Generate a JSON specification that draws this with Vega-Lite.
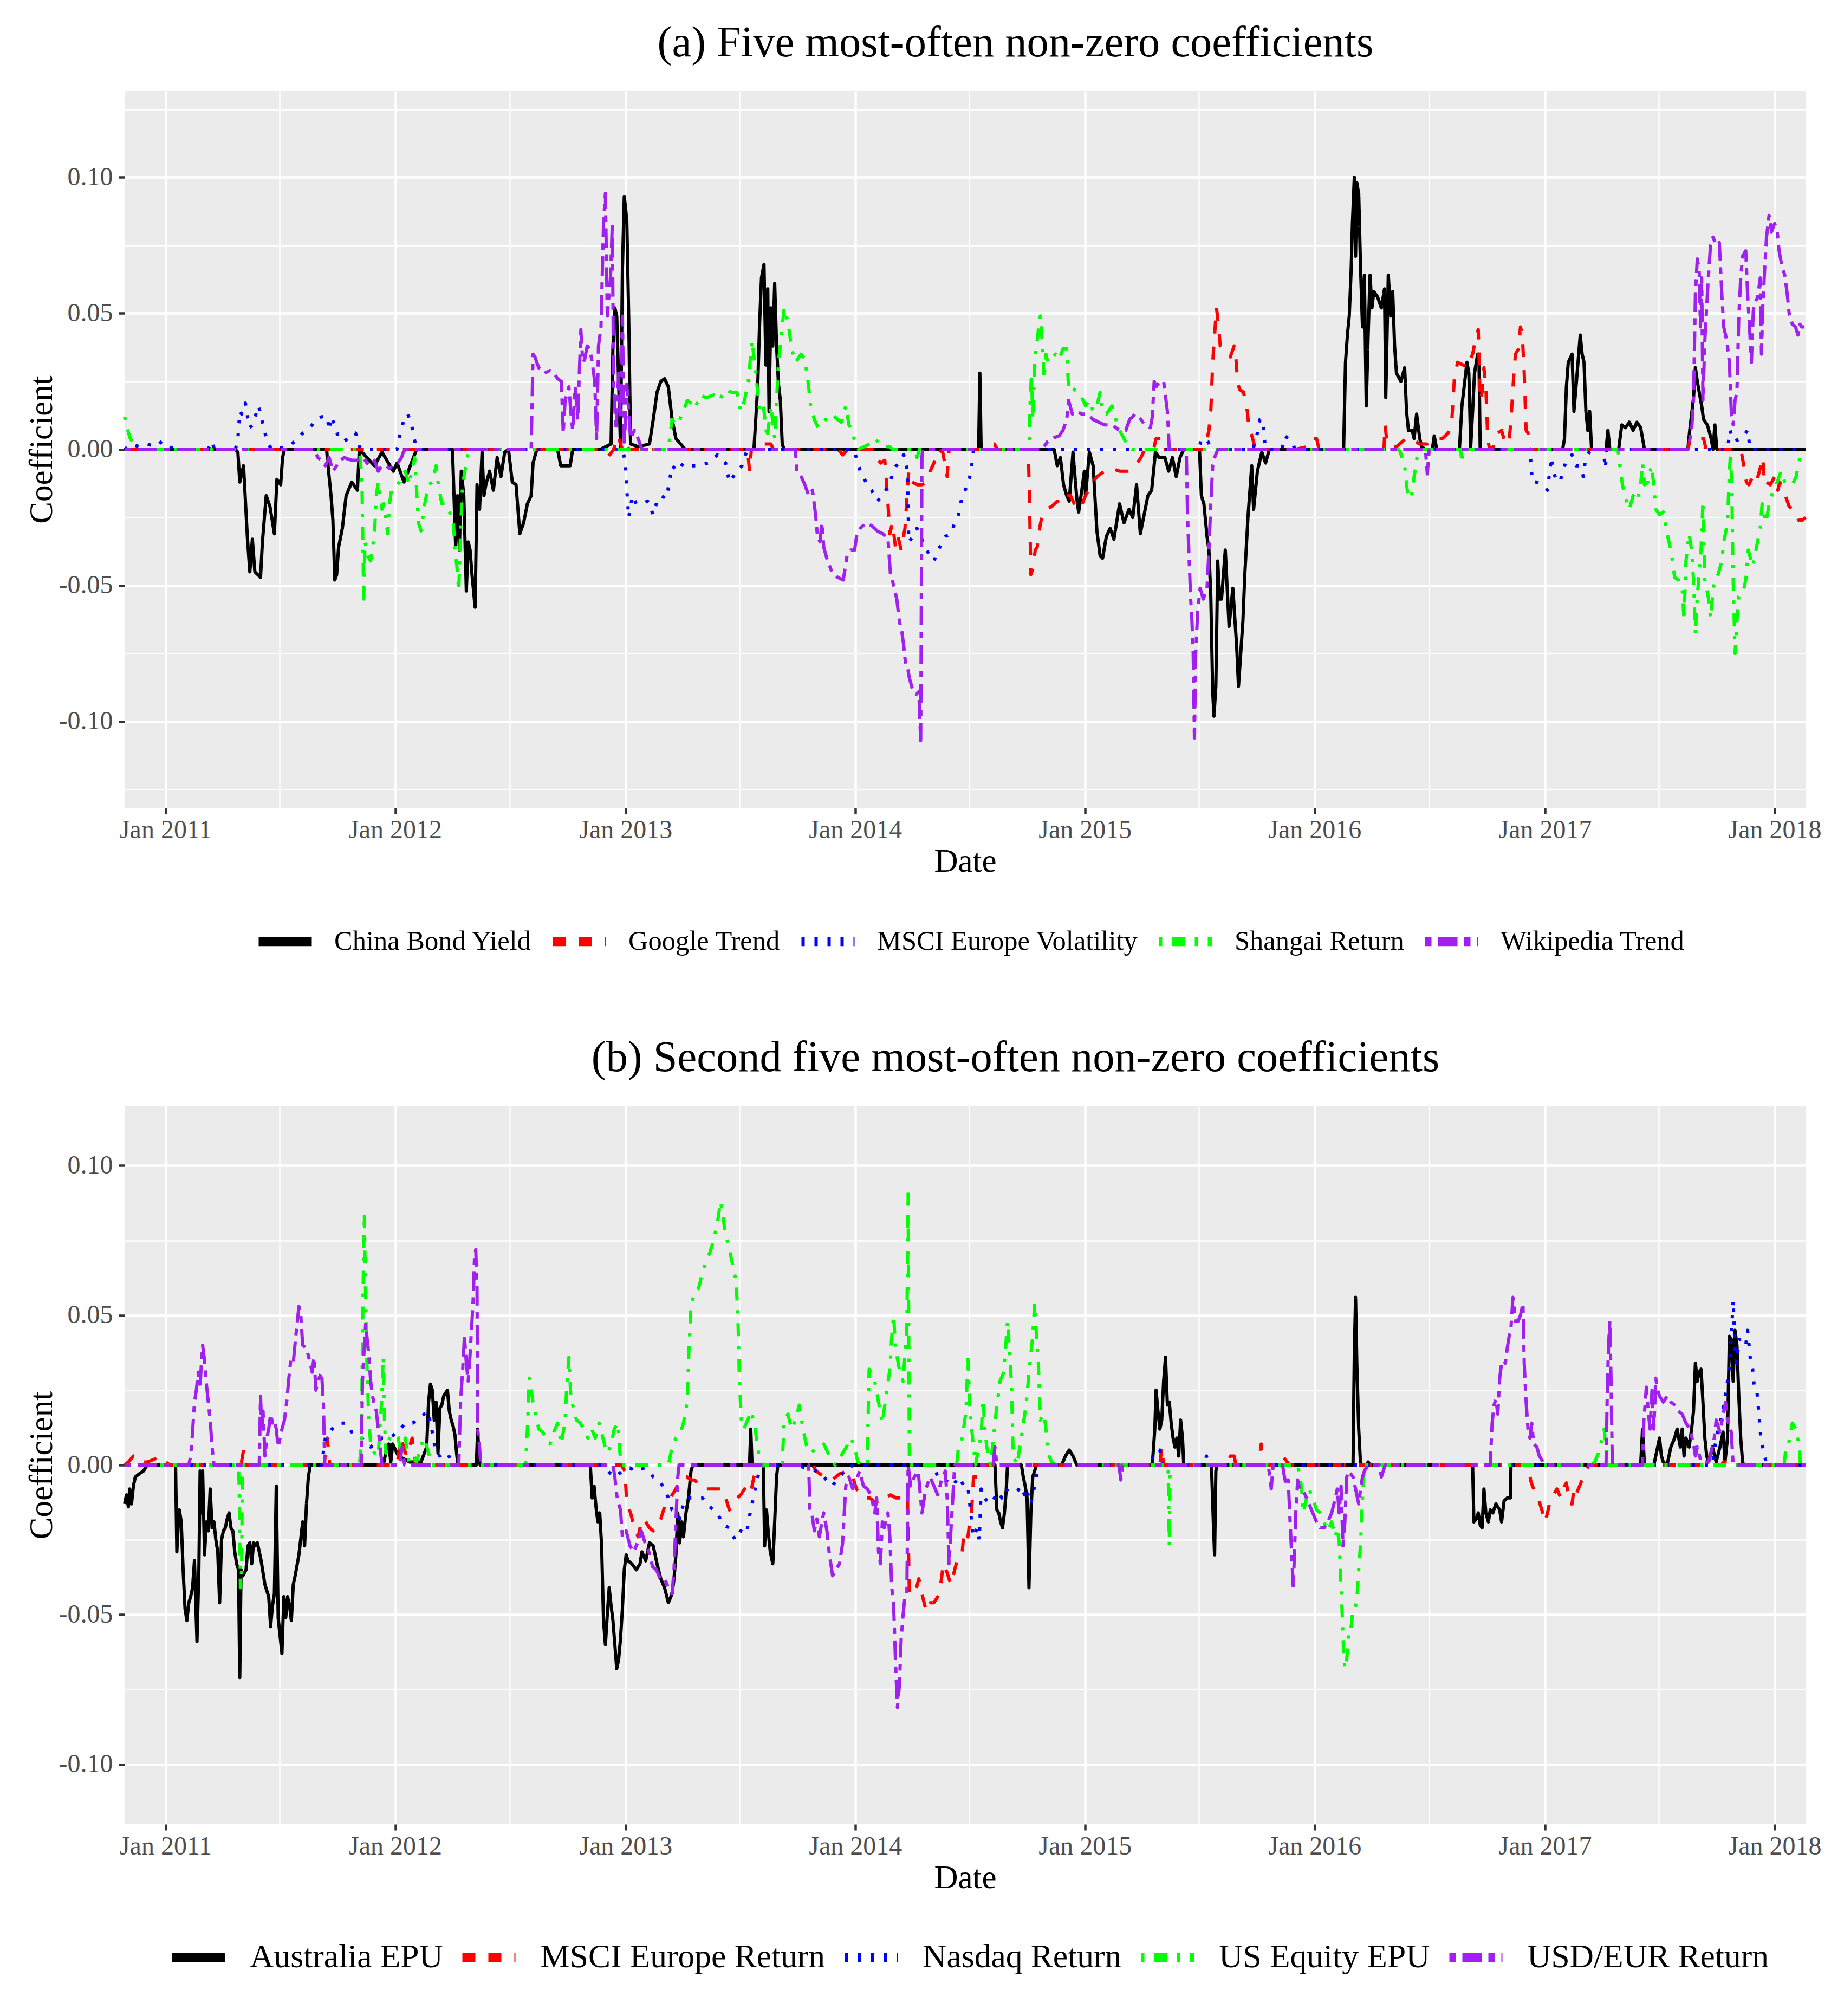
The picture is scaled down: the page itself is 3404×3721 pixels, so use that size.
{
  "$schema": "https://vega.github.io/schema/vega-lite/v6.json",
  "background": "white",
  "padding": {"left": 46, "top": 39, "right": 48, "bottom": 20},
  "config": {
    "font": "Liberation Serif",
    "view": {"fill": "#EBEBEB", "stroke": null},
    "axis": {
      "domain": false,
      "gridColor": "white",
      "gridWidth": 4.5,
      "tickColor": "#333333",
      "tickWidth": 4.5,
      "tickSize": 11,
      "labelFont": "Liberation Serif",
      "labelFontSize": 48,
      "labelColor": "#4D4D4D",
      "labelLimit": 400,
      "titleFont": "Liberation Serif",
      "titleFontSize": 61,
      "titleFontWeight": "normal",
      "titleColor": "black"
    },
    "legend": {
      "labelFont": "Liberation Serif",
      "labelColor": "black",
      "labelLimit": 1000,
      "symbolType": "stroke",
      "symbolSize": 9604,
      "symbolStrokeWidth": 17,
      "gridAlign": "each",
      "padding": 0
    },
    "title": {"font": "Liberation Serif", "fontSize": 80.5, "fontWeight": "normal", "color": "black", "anchor": "middle", "offset": 48, "dx": 93}
  },
  "spacing": 140,
  "resolve": {"scale": {"color": "independent", "strokeDash": "independent"}, "legend": {"color": "independent", "strokeDash": "independent"}},
  "vconcat": [
    {
      "title": "(a) Five most-often non-zero coefficients",
      "width": 3103,
      "height": 1323,
      "resolve": {"axis": {"x": "independent", "y": "independent"}},
      "layer": [
        {
          "data": {"values": [{"date": "2011-01-01", "value": 0}]},
          "mark": {"type": "point", "opacity": 0},
          "encoding": {
            "x": {"field": "date", "type": "temporal", "scale": {"type": "utc", "domain": [{"year": 2010, "month": 10, "date": 28, "utc": true}, {"year": 2018, "month": 2, "date": 19, "utc": true}]},
              "axis": {"orient": "bottom", "grid": true, "gridWidth": 2.3, "labels": false, "ticks": false, "title": null,
                "values": [{"year": 2011, "month": 7, "date": 1, "utc": true}, {"year": 2012, "month": 7, "date": 1, "utc": true}, {"year": 2013, "month": 7, "date": 1, "utc": true}, {"year": 2014, "month": 7, "date": 1, "utc": true}, {"year": 2015, "month": 7, "date": 1, "utc": true}, {"year": 2016, "month": 7, "date": 1, "utc": true}, {"year": 2017, "month": 7, "date": 1, "utc": true}]}},
            "y": {"field": "value", "type": "quantitative", "scale": {"domain": [-0.1317, 0.1317], "nice": false, "zero": false},
              "axis": {"orient": "left", "grid": true, "gridWidth": 2.3, "labels": false, "ticks": false, "title": null, "values": [-0.125, -0.075, -0.025, 0.025, 0.075, 0.125]}}
          }
        },
        {
          "data": {"values": [
            {"series": "China Bond Yield", "date": "2010-10-28", "value": 0},
            {"series": "Google Trend", "date": "2010-10-28", "value": 0},
            {"series": "MSCI Europe Volatility", "date": "2010-10-28", "value": 0},
            {"series": "Shangai Return", "date": "2010-10-28", "value": 0},
            {"series": "Wikipedia Trend", "date": "2010-10-28", "value": 0}
          ]},
          "mark": {"type": "line", "strokeWidth": 6, "strokeCap": "butt"},
          "encoding": {
            "x": {"field": "date", "type": "temporal", "axis": null},
            "y": {"field": "value", "type": "quantitative", "axis": null},
            "color": {"field": "series", "type": "nominal",
              "scale": {"domain": ["China Bond Yield", "Google Trend", "MSCI Europe Volatility", "Shangai Return", "Wikipedia Trend"], "range": ["#000000", "#FF0000", "#0000FF", "#00FF00", "#A020F0"]},
              "legend": {"title": null, "orient": "none", "direction": "horizontal", "legendX": 239, "legendY": 1512, "labelFontSize": 50.5, "labelOffset": 33, "columnPadding": 4,
                "encoding": {"symbols": {"strokeDash": {"value": {"expr": "datum.value === 'Google Trend' ? [68, 68] : datum.value === 'MSCI Europe Volatility' ? [17, 51] : datum.value === 'Shangai Return' ? [17, 51, 68, 51] : datum.value === 'Wikipedia Trend' ? [34, 34, 102, 34] : [1, 0]"}}}}}}
          }
        },
        {
          "data": {"values": [
            {"series": "China Bond Yield", "date": "2010-10-28", "value": 0},
            {"series": "China Bond Yield", "date": "2011-04-22", "value": 0},
            {"series": "China Bond Yield", "date": "2011-04-26", "value": -0.001},
            {"series": "China Bond Yield", "date": "2011-04-29", "value": -0.012},
            {"series": "China Bond Yield", "date": "2011-05-05", "value": -0.006},
            {"series": "China Bond Yield", "date": "2011-05-11", "value": -0.032},
            {"series": "China Bond Yield", "date": "2011-05-15", "value": -0.045},
            {"series": "China Bond Yield", "date": "2011-05-19", "value": -0.033},
            {"series": "China Bond Yield", "date": "2011-05-23", "value": -0.045},
            {"series": "China Bond Yield", "date": "2011-06-01", "value": -0.047},
            {"series": "China Bond Yield", "date": "2011-06-04", "value": -0.034},
            {"series": "China Bond Yield", "date": "2011-06-10", "value": -0.017},
            {"series": "China Bond Yield", "date": "2011-06-16", "value": -0.021},
            {"series": "China Bond Yield", "date": "2011-06-23", "value": -0.031},
            {"series": "China Bond Yield", "date": "2011-06-27", "value": -0.011},
            {"series": "China Bond Yield", "date": "2011-07-03", "value": -0.013},
            {"series": "China Bond Yield", "date": "2011-07-06", "value": -0.003},
            {"series": "China Bond Yield", "date": "2011-07-09", "value": 0},
            {"series": "China Bond Yield", "date": "2011-09-14", "value": 0},
            {"series": "China Bond Yield", "date": "2011-09-15", "value": -0.003},
            {"series": "China Bond Yield", "date": "2011-09-21", "value": -0.017},
            {"series": "China Bond Yield", "date": "2011-09-24", "value": -0.026},
            {"series": "China Bond Yield", "date": "2011-09-27", "value": -0.048},
            {"series": "China Bond Yield", "date": "2011-09-30", "value": -0.046},
            {"series": "China Bond Yield", "date": "2011-10-03", "value": -0.036},
            {"series": "China Bond Yield", "date": "2011-10-09", "value": -0.029},
            {"series": "China Bond Yield", "date": "2011-10-15", "value": -0.017},
            {"series": "China Bond Yield", "date": "2011-10-24", "value": -0.012},
            {"series": "China Bond Yield", "date": "2011-11-02", "value": -0.015},
            {"series": "China Bond Yield", "date": "2011-11-05", "value": 0},
            {"series": "China Bond Yield", "date": "2011-11-17", "value": -0.003},
            {"series": "China Bond Yield", "date": "2011-11-29", "value": -0.006},
            {"series": "China Bond Yield", "date": "2011-12-11", "value": -0.001},
            {"series": "China Bond Yield", "date": "2011-12-29", "value": -0.008},
            {"series": "China Bond Yield", "date": "2012-01-04", "value": -0.005},
            {"series": "China Bond Yield", "date": "2012-01-15", "value": -0.012},
            {"series": "China Bond Yield", "date": "2012-01-25", "value": -0.006},
            {"series": "China Bond Yield", "date": "2012-02-04", "value": 0},
            {"series": "China Bond Yield", "date": "2012-04-01", "value": 0},
            {"series": "China Bond Yield", "date": "2012-04-06", "value": -0.035},
            {"series": "China Bond Yield", "date": "2012-04-09", "value": -0.017},
            {"series": "China Bond Yield", "date": "2012-04-12", "value": -0.037},
            {"series": "China Bond Yield", "date": "2012-04-15", "value": -0.008},
            {"series": "China Bond Yield", "date": "2012-04-19", "value": -0.017},
            {"series": "China Bond Yield", "date": "2012-04-23", "value": -0.052},
            {"series": "China Bond Yield", "date": "2012-04-26", "value": -0.034},
            {"series": "China Bond Yield", "date": "2012-04-29", "value": -0.037},
            {"series": "China Bond Yield", "date": "2012-05-02", "value": -0.046},
            {"series": "China Bond Yield", "date": "2012-05-07", "value": -0.058},
            {"series": "China Bond Yield", "date": "2012-05-10", "value": -0.013},
            {"series": "China Bond Yield", "date": "2012-05-14", "value": -0.022},
            {"series": "China Bond Yield", "date": "2012-05-18", "value": -0.001},
            {"series": "China Bond Yield", "date": "2012-05-21", "value": -0.017},
            {"series": "China Bond Yield", "date": "2012-05-24", "value": -0.013},
            {"series": "China Bond Yield", "date": "2012-05-30", "value": -0.008},
            {"series": "China Bond Yield", "date": "2012-06-05", "value": -0.015},
            {"series": "China Bond Yield", "date": "2012-06-11", "value": -0.003},
            {"series": "China Bond Yield", "date": "2012-06-17", "value": -0.010},
            {"series": "China Bond Yield", "date": "2012-06-23", "value": -0.001},
            {"series": "China Bond Yield", "date": "2012-06-29", "value": 0},
            {"series": "China Bond Yield", "date": "2012-07-05", "value": -0.012},
            {"series": "China Bond Yield", "date": "2012-07-11", "value": -0.013},
            {"series": "China Bond Yield", "date": "2012-07-17", "value": -0.031},
            {"series": "China Bond Yield", "date": "2012-07-23", "value": -0.027},
            {"series": "China Bond Yield", "date": "2012-07-29", "value": -0.020},
            {"series": "China Bond Yield", "date": "2012-08-04", "value": -0.017},
            {"series": "China Bond Yield", "date": "2012-08-07", "value": -0.005},
            {"series": "China Bond Yield", "date": "2012-08-13", "value": 0},
            {"series": "China Bond Yield", "date": "2012-09-15", "value": 0},
            {"series": "China Bond Yield", "date": "2012-09-20", "value": -0.006},
            {"series": "China Bond Yield", "date": "2012-10-05", "value": -0.006},
            {"series": "China Bond Yield", "date": "2012-10-09", "value": 0},
            {"series": "China Bond Yield", "date": "2012-11-22", "value": 0},
            {"series": "China Bond Yield", "date": "2012-12-09", "value": 0.002},
            {"series": "China Bond Yield", "date": "2012-12-12", "value": 0.038},
            {"series": "China Bond Yield", "date": "2012-12-15", "value": 0.052},
            {"series": "China Bond Yield", "date": "2012-12-18", "value": 0.049},
            {"series": "China Bond Yield", "date": "2012-12-21", "value": 0.025},
            {"series": "China Bond Yield", "date": "2012-12-24", "value": 0.001},
            {"series": "China Bond Yield", "date": "2012-12-27", "value": 0.066},
            {"series": "China Bond Yield", "date": "2012-12-30", "value": 0.093},
            {"series": "China Bond Yield", "date": "2013-01-03", "value": 0.084},
            {"series": "China Bond Yield", "date": "2013-01-06", "value": 0.049},
            {"series": "China Bond Yield", "date": "2013-01-09", "value": 0.002},
            {"series": "China Bond Yield", "date": "2013-01-21", "value": 0.001},
            {"series": "China Bond Yield", "date": "2013-02-08", "value": 0.002},
            {"series": "China Bond Yield", "date": "2013-02-14", "value": 0.011},
            {"series": "China Bond Yield", "date": "2013-02-20", "value": 0.021},
            {"series": "China Bond Yield", "date": "2013-02-26", "value": 0.025},
            {"series": "China Bond Yield", "date": "2013-03-04", "value": 0.026},
            {"series": "China Bond Yield", "date": "2013-03-10", "value": 0.023},
            {"series": "China Bond Yield", "date": "2013-03-16", "value": 0.011},
            {"series": "China Bond Yield", "date": "2013-03-22", "value": 0.004},
            {"series": "China Bond Yield", "date": "2013-04-06", "value": 0},
            {"series": "China Bond Yield", "date": "2013-07-24", "value": 0},
            {"series": "China Bond Yield", "date": "2013-07-30", "value": 0.023},
            {"series": "China Bond Yield", "date": "2013-08-02", "value": 0.046},
            {"series": "China Bond Yield", "date": "2013-08-05", "value": 0.063},
            {"series": "China Bond Yield", "date": "2013-08-09", "value": 0.068},
            {"series": "China Bond Yield", "date": "2013-08-12", "value": 0.031},
            {"series": "China Bond Yield", "date": "2013-08-15", "value": 0.059},
            {"series": "China Bond Yield", "date": "2013-08-17", "value": 0.014},
            {"series": "China Bond Yield", "date": "2013-08-20", "value": 0.052},
            {"series": "China Bond Yield", "date": "2013-08-23", "value": 0.038},
            {"series": "China Bond Yield", "date": "2013-08-26", "value": 0.061},
            {"series": "China Bond Yield", "date": "2013-08-29", "value": 0.038},
            {"series": "China Bond Yield", "date": "2013-09-01", "value": 0.024},
            {"series": "China Bond Yield", "date": "2013-09-04", "value": 0.018},
            {"series": "China Bond Yield", "date": "2013-09-07", "value": 0.002},
            {"series": "China Bond Yield", "date": "2013-09-10", "value": 0},
            {"series": "China Bond Yield", "date": "2014-07-16", "value": 0},
            {"series": "China Bond Yield", "date": "2014-07-18", "value": 0.028},
            {"series": "China Bond Yield", "date": "2014-07-20", "value": 0},
            {"series": "China Bond Yield", "date": "2014-11-13", "value": 0},
            {"series": "China Bond Yield", "date": "2014-11-18", "value": -0.006},
            {"series": "China Bond Yield", "date": "2014-11-23", "value": -0.003},
            {"series": "China Bond Yield", "date": "2014-11-28", "value": -0.013},
            {"series": "China Bond Yield", "date": "2014-12-03", "value": -0.017},
            {"series": "China Bond Yield", "date": "2014-12-07", "value": -0.019},
            {"series": "China Bond Yield", "date": "2014-12-13", "value": -0.001},
            {"series": "China Bond Yield", "date": "2014-12-19", "value": -0.018},
            {"series": "China Bond Yield", "date": "2014-12-22", "value": -0.023},
            {"series": "China Bond Yield", "date": "2014-12-27", "value": -0.015},
            {"series": "China Bond Yield", "date": "2014-12-31", "value": -0.008},
            {"series": "China Bond Yield", "date": "2015-01-02", "value": -0.017},
            {"series": "China Bond Yield", "date": "2015-01-08", "value": -0.001},
            {"series": "China Bond Yield", "date": "2015-01-14", "value": -0.006},
            {"series": "China Bond Yield", "date": "2015-01-20", "value": -0.030},
            {"series": "China Bond Yield", "date": "2015-01-25", "value": -0.039},
            {"series": "China Bond Yield", "date": "2015-01-29", "value": -0.040},
            {"series": "China Bond Yield", "date": "2015-02-04", "value": -0.032},
            {"series": "China Bond Yield", "date": "2015-02-10", "value": -0.029},
            {"series": "China Bond Yield", "date": "2015-02-16", "value": -0.033},
            {"series": "China Bond Yield", "date": "2015-02-25", "value": -0.020},
            {"series": "China Bond Yield", "date": "2015-03-04", "value": -0.027},
            {"series": "China Bond Yield", "date": "2015-03-12", "value": -0.022},
            {"series": "China Bond Yield", "date": "2015-03-18", "value": -0.025},
            {"series": "China Bond Yield", "date": "2015-03-24", "value": -0.013},
            {"series": "China Bond Yield", "date": "2015-03-30", "value": -0.031},
            {"series": "China Bond Yield", "date": "2015-04-05", "value": -0.024},
            {"series": "China Bond Yield", "date": "2015-04-11", "value": -0.017},
            {"series": "China Bond Yield", "date": "2015-04-17", "value": -0.015},
            {"series": "China Bond Yield", "date": "2015-04-23", "value": -0.001},
            {"series": "China Bond Yield", "date": "2015-04-29", "value": -0.003},
            {"series": "China Bond Yield", "date": "2015-05-08", "value": -0.003},
            {"series": "China Bond Yield", "date": "2015-05-14", "value": -0.008},
            {"series": "China Bond Yield", "date": "2015-05-20", "value": -0.003},
            {"series": "China Bond Yield", "date": "2015-05-26", "value": -0.010},
            {"series": "China Bond Yield", "date": "2015-06-01", "value": -0.003},
            {"series": "China Bond Yield", "date": "2015-06-07", "value": 0},
            {"series": "China Bond Yield", "date": "2015-07-02", "value": 0},
            {"series": "China Bond Yield", "date": "2015-07-05", "value": -0.017},
            {"series": "China Bond Yield", "date": "2015-07-09", "value": -0.020},
            {"series": "China Bond Yield", "date": "2015-07-14", "value": -0.032},
            {"series": "China Bond Yield", "date": "2015-07-17", "value": -0.037},
            {"series": "China Bond Yield", "date": "2015-07-20", "value": -0.054},
            {"series": "China Bond Yield", "date": "2015-07-23", "value": -0.089},
            {"series": "China Bond Yield", "date": "2015-07-25", "value": -0.098},
            {"series": "China Bond Yield", "date": "2015-07-28", "value": -0.087},
            {"series": "China Bond Yield", "date": "2015-07-31", "value": -0.041},
            {"series": "China Bond Yield", "date": "2015-08-03", "value": -0.055},
            {"series": "China Bond Yield", "date": "2015-08-06", "value": -0.055},
            {"series": "China Bond Yield", "date": "2015-08-12", "value": -0.037},
            {"series": "China Bond Yield", "date": "2015-08-18", "value": -0.065},
            {"series": "China Bond Yield", "date": "2015-08-24", "value": -0.051},
            {"series": "China Bond Yield", "date": "2015-08-30", "value": -0.072},
            {"series": "China Bond Yield", "date": "2015-09-02", "value": -0.087},
            {"series": "China Bond Yield", "date": "2015-09-09", "value": -0.063},
            {"series": "China Bond Yield", "date": "2015-09-12", "value": -0.046},
            {"series": "China Bond Yield", "date": "2015-09-17", "value": -0.025},
            {"series": "China Bond Yield", "date": "2015-09-23", "value": -0.006},
            {"series": "China Bond Yield", "date": "2015-09-26", "value": -0.022},
            {"series": "China Bond Yield", "date": "2015-10-02", "value": -0.008},
            {"series": "China Bond Yield", "date": "2015-10-09", "value": -0.001},
            {"series": "China Bond Yield", "date": "2015-10-15", "value": -0.005},
            {"series": "China Bond Yield", "date": "2015-10-21", "value": 0},
            {"series": "China Bond Yield", "date": "2016-02-16", "value": 0},
            {"series": "China Bond Yield", "date": "2016-02-19", "value": 0.032},
            {"series": "China Bond Yield", "date": "2016-02-22", "value": 0.042},
            {"series": "China Bond Yield", "date": "2016-02-25", "value": 0.049},
            {"series": "China Bond Yield", "date": "2016-02-28", "value": 0.066},
            {"series": "China Bond Yield", "date": "2016-03-01", "value": 0.083},
            {"series": "China Bond Yield", "date": "2016-03-04", "value": 0.100},
            {"series": "China Bond Yield", "date": "2016-03-06", "value": 0.071},
            {"series": "China Bond Yield", "date": "2016-03-08", "value": 0.098},
            {"series": "China Bond Yield", "date": "2016-03-11", "value": 0.094},
            {"series": "China Bond Yield", "date": "2016-03-14", "value": 0.066},
            {"series": "China Bond Yield", "date": "2016-03-17", "value": 0.045},
            {"series": "China Bond Yield", "date": "2016-03-20", "value": 0.064},
            {"series": "China Bond Yield", "date": "2016-03-23", "value": 0.016},
            {"series": "China Bond Yield", "date": "2016-03-26", "value": 0.042},
            {"series": "China Bond Yield", "date": "2016-03-29", "value": 0.064},
            {"series": "China Bond Yield", "date": "2016-04-01", "value": 0.052},
            {"series": "China Bond Yield", "date": "2016-04-04", "value": 0.058},
            {"series": "China Bond Yield", "date": "2016-04-10", "value": 0.056},
            {"series": "China Bond Yield", "date": "2016-04-16", "value": 0.052},
            {"series": "China Bond Yield", "date": "2016-04-21", "value": 0.059},
            {"series": "China Bond Yield", "date": "2016-04-23", "value": 0.019},
            {"series": "China Bond Yield", "date": "2016-04-27", "value": 0.064},
            {"series": "China Bond Yield", "date": "2016-05-01", "value": 0.049},
            {"series": "China Bond Yield", "date": "2016-05-04", "value": 0.058},
            {"series": "China Bond Yield", "date": "2016-05-07", "value": 0.038},
            {"series": "China Bond Yield", "date": "2016-05-10", "value": 0.028},
            {"series": "China Bond Yield", "date": "2016-05-17", "value": 0.025},
            {"series": "China Bond Yield", "date": "2016-05-23", "value": 0.030},
            {"series": "China Bond Yield", "date": "2016-05-26", "value": 0.014},
            {"series": "China Bond Yield", "date": "2016-05-29", "value": 0.007},
            {"series": "China Bond Yield", "date": "2016-06-04", "value": 0.007},
            {"series": "China Bond Yield", "date": "2016-06-07", "value": 0.004},
            {"series": "China Bond Yield", "date": "2016-06-11", "value": 0.013},
            {"series": "China Bond Yield", "date": "2016-06-16", "value": 0.004},
            {"series": "China Bond Yield", "date": "2016-06-19", "value": 0.001},
            {"series": "China Bond Yield", "date": "2016-06-25", "value": 0},
            {"series": "China Bond Yield", "date": "2016-07-06", "value": 0},
            {"series": "China Bond Yield", "date": "2016-07-09", "value": 0.005},
            {"series": "China Bond Yield", "date": "2016-07-13", "value": 0},
            {"series": "China Bond Yield", "date": "2016-08-18", "value": 0},
            {"series": "China Bond Yield", "date": "2016-08-22", "value": 0.016},
            {"series": "China Bond Yield", "date": "2016-08-26", "value": 0.024},
            {"series": "China Bond Yield", "date": "2016-08-30", "value": 0.032},
            {"series": "China Bond Yield", "date": "2016-09-02", "value": 0.028},
            {"series": "China Bond Yield", "date": "2016-09-05", "value": 0.001},
            {"series": "China Bond Yield", "date": "2016-09-08", "value": 0.014},
            {"series": "China Bond Yield", "date": "2016-09-11", "value": 0.028},
            {"series": "China Bond Yield", "date": "2016-09-16", "value": 0.035},
            {"series": "China Bond Yield", "date": "2016-09-18", "value": 0.035},
            {"series": "China Bond Yield", "date": "2016-09-20", "value": 0},
            {"series": "China Bond Yield", "date": "2017-01-29", "value": 0},
            {"series": "China Bond Yield", "date": "2017-02-01", "value": 0.004},
            {"series": "China Bond Yield", "date": "2017-02-04", "value": 0.023},
            {"series": "China Bond Yield", "date": "2017-02-07", "value": 0.032},
            {"series": "China Bond Yield", "date": "2017-02-13", "value": 0.035},
            {"series": "China Bond Yield", "date": "2017-02-16", "value": 0.014},
            {"series": "China Bond Yield", "date": "2017-02-20", "value": 0.025},
            {"series": "China Bond Yield", "date": "2017-02-26", "value": 0.042},
            {"series": "China Bond Yield", "date": "2017-03-01", "value": 0.035},
            {"series": "China Bond Yield", "date": "2017-03-04", "value": 0.032},
            {"series": "China Bond Yield", "date": "2017-03-07", "value": 0.014},
            {"series": "China Bond Yield", "date": "2017-03-10", "value": 0.007},
            {"series": "China Bond Yield", "date": "2017-03-13", "value": 0.014},
            {"series": "China Bond Yield", "date": "2017-03-16", "value": 0},
            {"series": "China Bond Yield", "date": "2017-04-08", "value": 0},
            {"series": "China Bond Yield", "date": "2017-04-11", "value": 0.007},
            {"series": "China Bond Yield", "date": "2017-04-14", "value": 0},
            {"series": "China Bond Yield", "date": "2017-04-28", "value": 0},
            {"series": "China Bond Yield", "date": "2017-05-03", "value": 0.009},
            {"series": "China Bond Yield", "date": "2017-05-09", "value": 0.008},
            {"series": "China Bond Yield", "date": "2017-05-15", "value": 0.010},
            {"series": "China Bond Yield", "date": "2017-05-21", "value": 0.007},
            {"series": "China Bond Yield", "date": "2017-05-27", "value": 0.010},
            {"series": "China Bond Yield", "date": "2017-06-02", "value": 0.008},
            {"series": "China Bond Yield", "date": "2017-06-08", "value": 0},
            {"series": "China Bond Yield", "date": "2017-08-16", "value": 0},
            {"series": "China Bond Yield", "date": "2017-08-19", "value": 0.007},
            {"series": "China Bond Yield", "date": "2017-08-25", "value": 0.019},
            {"series": "China Bond Yield", "date": "2017-08-28", "value": 0.030},
            {"series": "China Bond Yield", "date": "2017-08-31", "value": 0.025},
            {"series": "China Bond Yield", "date": "2017-09-07", "value": 0.016},
            {"series": "China Bond Yield", "date": "2017-09-10", "value": 0.011},
            {"series": "China Bond Yield", "date": "2017-09-16", "value": 0.009},
            {"series": "China Bond Yield", "date": "2017-09-22", "value": 0.004},
            {"series": "China Bond Yield", "date": "2017-09-25", "value": 0},
            {"series": "China Bond Yield", "date": "2017-09-28", "value": 0.009},
            {"series": "China Bond Yield", "date": "2017-10-01", "value": 0},
            {"series": "China Bond Yield", "date": "2018-02-19", "value": 0},

            {"series": "Google Trend", "date": "2010-10-28", "value": 0},
            {"series": "Google Trend", "date": "2011-02-13", "value": 0},
            {"series": "Google Trend", "date": "2011-02-16", "value": 0.002},
            {"series": "Google Trend", "date": "2011-02-19", "value": 0},
            {"series": "Google Trend", "date": "2012-12-01", "value": 0},
            {"series": "Google Trend", "date": "2012-12-07", "value": -0.002},
            {"series": "Google Trend", "date": "2012-12-13", "value": 0},
            {"series": "Google Trend", "date": "2012-12-20", "value": 0.005},
            {"series": "Google Trend", "date": "2012-12-27", "value": 0},
            {"series": "Google Trend", "date": "2013-01-02", "value": 0.003},
            {"series": "Google Trend", "date": "2013-01-06", "value": 0},
            {"series": "Google Trend", "date": "2013-07-14", "value": 0},
            {"series": "Google Trend", "date": "2013-07-17", "value": -0.008},
            {"series": "Google Trend", "date": "2013-07-20", "value": 0},
            {"series": "Google Trend", "date": "2013-08-05", "value": 0},
            {"series": "Google Trend", "date": "2013-08-09", "value": 0.002},
            {"series": "Google Trend", "date": "2013-08-20", "value": 0.002},
            {"series": "Google Trend", "date": "2013-08-24", "value": 0},
            {"series": "Google Trend", "date": "2013-12-05", "value": 0},
            {"series": "Google Trend", "date": "2013-12-12", "value": -0.002},
            {"series": "Google Trend", "date": "2013-12-20", "value": 0},
            {"series": "Google Trend", "date": "2014-02-01", "value": 0},
            {"series": "Google Trend", "date": "2014-02-05", "value": -0.003},
            {"series": "Google Trend", "date": "2014-02-10", "value": -0.005},
            {"series": "Google Trend", "date": "2014-02-17", "value": -0.004},
            {"series": "Google Trend", "date": "2014-02-22", "value": -0.020},
            {"series": "Google Trend", "date": "2014-02-25", "value": -0.031},
            {"series": "Google Trend", "date": "2014-03-01", "value": -0.027},
            {"series": "Google Trend", "date": "2014-03-06", "value": -0.036},
            {"series": "Google Trend", "date": "2014-03-10", "value": -0.032},
            {"series": "Google Trend", "date": "2014-03-15", "value": -0.037},
            {"series": "Google Trend", "date": "2014-03-21", "value": -0.029},
            {"series": "Google Trend", "date": "2014-03-24", "value": -0.018},
            {"series": "Google Trend", "date": "2014-03-27", "value": -0.008},
            {"series": "Google Trend", "date": "2014-04-01", "value": -0.012},
            {"series": "Google Trend", "date": "2014-04-10", "value": -0.013},
            {"series": "Google Trend", "date": "2014-04-17", "value": -0.013},
            {"series": "Google Trend", "date": "2014-04-24", "value": -0.012},
            {"series": "Google Trend", "date": "2014-04-30", "value": -0.008},
            {"series": "Google Trend", "date": "2014-05-06", "value": -0.005},
            {"series": "Google Trend", "date": "2014-05-12", "value": 0},
            {"series": "Google Trend", "date": "2014-05-20", "value": -0.001},
            {"series": "Google Trend", "date": "2014-05-27", "value": -0.010},
            {"series": "Google Trend", "date": "2014-05-30", "value": 0},
            {"series": "Google Trend", "date": "2014-07-25", "value": 0},
            {"series": "Google Trend", "date": "2014-07-30", "value": 0.002},
            {"series": "Google Trend", "date": "2014-08-10", "value": 0.002},
            {"series": "Google Trend", "date": "2014-08-15", "value": 0},
            {"series": "Google Trend", "date": "2014-10-03", "value": 0},
            {"series": "Google Trend", "date": "2014-10-05", "value": -0.020},
            {"series": "Google Trend", "date": "2014-10-07", "value": -0.046},
            {"series": "Google Trend", "date": "2014-10-10", "value": -0.044},
            {"series": "Google Trend", "date": "2014-10-14", "value": -0.037},
            {"series": "Google Trend", "date": "2014-10-17", "value": -0.036},
            {"series": "Google Trend", "date": "2014-10-21", "value": -0.029},
            {"series": "Google Trend", "date": "2014-10-25", "value": -0.024},
            {"series": "Google Trend", "date": "2014-10-31", "value": -0.022},
            {"series": "Google Trend", "date": "2014-11-09", "value": -0.021},
            {"series": "Google Trend", "date": "2014-11-18", "value": -0.019},
            {"series": "Google Trend", "date": "2014-11-24", "value": -0.020},
            {"series": "Google Trend", "date": "2014-12-03", "value": -0.017},
            {"series": "Google Trend", "date": "2014-12-09", "value": -0.017},
            {"series": "Google Trend", "date": "2014-12-15", "value": -0.020},
            {"series": "Google Trend", "date": "2014-12-24", "value": -0.022},
            {"series": "Google Trend", "date": "2015-01-02", "value": -0.017},
            {"series": "Google Trend", "date": "2015-01-11", "value": -0.013},
            {"series": "Google Trend", "date": "2015-01-20", "value": -0.010},
            {"series": "Google Trend", "date": "2015-02-01", "value": -0.008},
            {"series": "Google Trend", "date": "2015-02-13", "value": -0.007},
            {"series": "Google Trend", "date": "2015-02-25", "value": -0.008},
            {"series": "Google Trend", "date": "2015-03-10", "value": -0.008},
            {"series": "Google Trend", "date": "2015-03-22", "value": -0.006},
            {"series": "Google Trend", "date": "2015-03-31", "value": -0.003},
            {"series": "Google Trend", "date": "2015-04-06", "value": 0},
            {"series": "Google Trend", "date": "2015-04-20", "value": 0},
            {"series": "Google Trend", "date": "2015-04-24", "value": 0.004},
            {"series": "Google Trend", "date": "2015-05-03", "value": 0.004},
            {"series": "Google Trend", "date": "2015-05-06", "value": 0},
            {"series": "Google Trend", "date": "2015-07-08", "value": 0},
            {"series": "Google Trend", "date": "2015-07-14", "value": 0.004},
            {"series": "Google Trend", "date": "2015-07-17", "value": 0.007},
            {"series": "Google Trend", "date": "2015-07-20", "value": 0.014},
            {"series": "Google Trend", "date": "2015-07-23", "value": 0.032},
            {"series": "Google Trend", "date": "2015-07-26", "value": 0.042},
            {"series": "Google Trend", "date": "2015-07-29", "value": 0.052},
            {"series": "Google Trend", "date": "2015-08-01", "value": 0.046},
            {"series": "Google Trend", "date": "2015-08-04", "value": 0.038},
            {"series": "Google Trend", "date": "2015-08-07", "value": 0.037},
            {"series": "Google Trend", "date": "2015-08-14", "value": 0.035},
            {"series": "Google Trend", "date": "2015-08-20", "value": 0.034},
            {"series": "Google Trend", "date": "2015-08-26", "value": 0.038},
            {"series": "Google Trend", "date": "2015-08-29", "value": 0.033},
            {"series": "Google Trend", "date": "2015-09-01", "value": 0.024},
            {"series": "Google Trend", "date": "2015-09-04", "value": 0.022},
            {"series": "Google Trend", "date": "2015-09-10", "value": 0.021},
            {"series": "Google Trend", "date": "2015-09-16", "value": 0.014},
            {"series": "Google Trend", "date": "2015-09-19", "value": 0.007},
            {"series": "Google Trend", "date": "2015-09-22", "value": 0.006},
            {"series": "Google Trend", "date": "2015-09-28", "value": 0.001},
            {"series": "Google Trend", "date": "2015-10-06", "value": 0},
            {"series": "Google Trend", "date": "2015-12-01", "value": 0},
            {"series": "Google Trend", "date": "2015-12-20", "value": 0.001},
            {"series": "Google Trend", "date": "2015-12-27", "value": 0.004},
            {"series": "Google Trend", "date": "2016-01-04", "value": 0.004},
            {"series": "Google Trend", "date": "2016-01-08", "value": 0},
            {"series": "Google Trend", "date": "2016-04-20", "value": 0},
            {"series": "Google Trend", "date": "2016-04-22", "value": 0.009},
            {"series": "Google Trend", "date": "2016-04-25", "value": 0.002},
            {"series": "Google Trend", "date": "2016-05-10", "value": 0.001},
            {"series": "Google Trend", "date": "2016-05-25", "value": 0.004},
            {"series": "Google Trend", "date": "2016-06-04", "value": 0.004},
            {"series": "Google Trend", "date": "2016-06-15", "value": 0.002},
            {"series": "Google Trend", "date": "2016-06-28", "value": 0.002},
            {"series": "Google Trend", "date": "2016-07-10", "value": 0.004},
            {"series": "Google Trend", "date": "2016-07-22", "value": 0.004},
            {"series": "Google Trend", "date": "2016-07-31", "value": 0.006},
            {"series": "Google Trend", "date": "2016-08-06", "value": 0.011},
            {"series": "Google Trend", "date": "2016-08-10", "value": 0.026},
            {"series": "Google Trend", "date": "2016-08-15", "value": 0.032},
            {"series": "Google Trend", "date": "2016-08-24", "value": 0.031},
            {"series": "Google Trend", "date": "2016-08-30", "value": 0.030},
            {"series": "Google Trend", "date": "2016-09-08", "value": 0.035},
            {"series": "Google Trend", "date": "2016-09-14", "value": 0.042},
            {"series": "Google Trend", "date": "2016-09-17", "value": 0.044},
            {"series": "Google Trend", "date": "2016-09-20", "value": 0.018},
            {"series": "Google Trend", "date": "2016-09-23", "value": 0.021},
            {"series": "Google Trend", "date": "2016-09-26", "value": 0.030},
            {"series": "Google Trend", "date": "2016-09-29", "value": 0.023},
            {"series": "Google Trend", "date": "2016-10-02", "value": 0.004},
            {"series": "Google Trend", "date": "2016-10-05", "value": 0},
            {"series": "Google Trend", "date": "2016-10-11", "value": 0.001},
            {"series": "Google Trend", "date": "2016-10-18", "value": 0.006},
            {"series": "Google Trend", "date": "2016-10-24", "value": 0.007},
            {"series": "Google Trend", "date": "2016-10-30", "value": 0.002},
            {"series": "Google Trend", "date": "2016-11-05", "value": 0.003},
            {"series": "Google Trend", "date": "2016-11-08", "value": 0.011},
            {"series": "Google Trend", "date": "2016-11-12", "value": 0.026},
            {"series": "Google Trend", "date": "2016-11-15", "value": 0.035},
            {"series": "Google Trend", "date": "2016-11-20", "value": 0.037},
            {"series": "Google Trend", "date": "2016-11-23", "value": 0.045},
            {"series": "Google Trend", "date": "2016-11-26", "value": 0.042},
            {"series": "Google Trend", "date": "2016-11-29", "value": 0.028},
            {"series": "Google Trend", "date": "2016-12-02", "value": 0.007},
            {"series": "Google Trend", "date": "2016-12-05", "value": 0.006},
            {"series": "Google Trend", "date": "2016-12-08", "value": 0},
            {"series": "Google Trend", "date": "2017-08-16", "value": 0},
            {"series": "Google Trend", "date": "2017-08-20", "value": 0.004},
            {"series": "Google Trend", "date": "2017-09-10", "value": 0.004},
            {"series": "Google Trend", "date": "2017-09-14", "value": 0},
            {"series": "Google Trend", "date": "2017-11-06", "value": 0},
            {"series": "Google Trend", "date": "2017-11-09", "value": -0.001},
            {"series": "Google Trend", "date": "2017-11-13", "value": -0.006},
            {"series": "Google Trend", "date": "2017-11-17", "value": -0.012},
            {"series": "Google Trend", "date": "2017-11-21", "value": -0.013},
            {"series": "Google Trend", "date": "2017-11-27", "value": -0.010},
            {"series": "Google Trend", "date": "2017-12-03", "value": -0.012},
            {"series": "Google Trend", "date": "2017-12-10", "value": -0.006},
            {"series": "Google Trend", "date": "2017-12-13", "value": -0.003},
            {"series": "Google Trend", "date": "2017-12-16", "value": -0.013},
            {"series": "Google Trend", "date": "2017-12-19", "value": -0.012},
            {"series": "Google Trend", "date": "2017-12-25", "value": -0.013},
            {"series": "Google Trend", "date": "2018-01-01", "value": -0.010},
            {"series": "Google Trend", "date": "2018-01-06", "value": -0.015},
            {"series": "Google Trend", "date": "2018-01-09", "value": -0.012},
            {"series": "Google Trend", "date": "2018-01-18", "value": -0.017},
            {"series": "Google Trend", "date": "2018-01-24", "value": -0.021},
            {"series": "Google Trend", "date": "2018-01-30", "value": -0.022},
            {"series": "Google Trend", "date": "2018-02-04", "value": -0.023},
            {"series": "Google Trend", "date": "2018-02-08", "value": -0.026},
            {"series": "Google Trend", "date": "2018-02-14", "value": -0.026},
            {"series": "Google Trend", "date": "2018-02-19", "value": -0.025},

            {"series": "MSCI Europe Volatility", "date": "2010-10-28", "value": 0},
            {"series": "MSCI Europe Volatility", "date": "2010-11-08", "value": 0.002},
            {"series": "MSCI Europe Volatility", "date": "2010-11-20", "value": 0.001},
            {"series": "MSCI Europe Volatility", "date": "2010-12-03", "value": 0.002},
            {"series": "MSCI Europe Volatility", "date": "2010-12-15", "value": 0.001},
            {"series": "MSCI Europe Volatility", "date": "2010-12-27", "value": 0.003},
            {"series": "MSCI Europe Volatility", "date": "2011-01-08", "value": 0.001},
            {"series": "MSCI Europe Volatility", "date": "2011-01-15", "value": 0},
            {"series": "MSCI Europe Volatility", "date": "2011-03-10", "value": 0},
            {"series": "MSCI Europe Volatility", "date": "2011-03-15", "value": 0.003},
            {"series": "MSCI Europe Volatility", "date": "2011-03-20", "value": 0},
            {"series": "MSCI Europe Volatility", "date": "2011-04-22", "value": 0},
            {"series": "MSCI Europe Volatility", "date": "2011-04-26", "value": 0.004},
            {"series": "MSCI Europe Volatility", "date": "2011-04-29", "value": 0.014},
            {"series": "MSCI Europe Volatility", "date": "2011-05-02", "value": 0.013},
            {"series": "MSCI Europe Volatility", "date": "2011-05-08", "value": 0.017},
            {"series": "MSCI Europe Volatility", "date": "2011-05-14", "value": 0.008},
            {"series": "MSCI Europe Volatility", "date": "2011-05-20", "value": 0.009},
            {"series": "MSCI Europe Volatility", "date": "2011-05-26", "value": 0.014},
            {"series": "MSCI Europe Volatility", "date": "2011-05-29", "value": 0.016},
            {"series": "MSCI Europe Volatility", "date": "2011-06-01", "value": 0.013},
            {"series": "MSCI Europe Volatility", "date": "2011-06-07", "value": 0.007},
            {"series": "MSCI Europe Volatility", "date": "2011-06-13", "value": 0.002},
            {"series": "MSCI Europe Volatility", "date": "2011-06-19", "value": 0},
            {"series": "MSCI Europe Volatility", "date": "2011-07-14", "value": 0.001},
            {"series": "MSCI Europe Volatility", "date": "2011-07-26", "value": 0.003},
            {"series": "MSCI Europe Volatility", "date": "2011-08-07", "value": 0.006},
            {"series": "MSCI Europe Volatility", "date": "2011-08-19", "value": 0.008},
            {"series": "MSCI Europe Volatility", "date": "2011-08-28", "value": 0.011},
            {"series": "MSCI Europe Volatility", "date": "2011-09-06", "value": 0.012},
            {"series": "MSCI Europe Volatility", "date": "2011-09-15", "value": 0.012},
            {"series": "MSCI Europe Volatility", "date": "2011-09-18", "value": 0.007},
            {"series": "MSCI Europe Volatility", "date": "2011-09-21", "value": 0.012},
            {"series": "MSCI Europe Volatility", "date": "2011-09-27", "value": 0.009},
            {"series": "MSCI Europe Volatility", "date": "2011-10-03", "value": 0.004},
            {"series": "MSCI Europe Volatility", "date": "2011-10-12", "value": 0.003},
            {"series": "MSCI Europe Volatility", "date": "2011-10-24", "value": 0.005},
            {"series": "MSCI Europe Volatility", "date": "2011-10-30", "value": 0.006},
            {"series": "MSCI Europe Volatility", "date": "2011-11-05", "value": 0.001},
            {"series": "MSCI Europe Volatility", "date": "2011-11-11", "value": 0},
            {"series": "MSCI Europe Volatility", "date": "2012-01-04", "value": 0},
            {"series": "MSCI Europe Volatility", "date": "2012-01-09", "value": 0.006},
            {"series": "MSCI Europe Volatility", "date": "2012-01-15", "value": 0.011},
            {"series": "MSCI Europe Volatility", "date": "2012-01-21", "value": 0.013},
            {"series": "MSCI Europe Volatility", "date": "2012-01-27", "value": 0.009},
            {"series": "MSCI Europe Volatility", "date": "2012-02-02", "value": 0.002},
            {"series": "MSCI Europe Volatility", "date": "2012-02-05", "value": 0},
            {"series": "MSCI Europe Volatility", "date": "2012-12-28", "value": 0},
            {"series": "MSCI Europe Volatility", "date": "2013-01-01", "value": -0.006},
            {"series": "MSCI Europe Volatility", "date": "2013-01-03", "value": -0.015},
            {"series": "MSCI Europe Volatility", "date": "2013-01-06", "value": -0.025},
            {"series": "MSCI Europe Volatility", "date": "2013-01-12", "value": -0.017},
            {"series": "MSCI Europe Volatility", "date": "2013-01-18", "value": -0.020},
            {"series": "MSCI Europe Volatility", "date": "2013-01-27", "value": -0.020},
            {"series": "MSCI Europe Volatility", "date": "2013-02-05", "value": -0.019},
            {"series": "MSCI Europe Volatility", "date": "2013-02-14", "value": -0.024},
            {"series": "MSCI Europe Volatility", "date": "2013-02-20", "value": -0.019},
            {"series": "MSCI Europe Volatility", "date": "2013-02-26", "value": -0.017},
            {"series": "MSCI Europe Volatility", "date": "2013-03-07", "value": -0.018},
            {"series": "MSCI Europe Volatility", "date": "2013-03-16", "value": -0.006},
            {"series": "MSCI Europe Volatility", "date": "2013-03-25", "value": -0.008},
            {"series": "MSCI Europe Volatility", "date": "2013-04-03", "value": -0.005},
            {"series": "MSCI Europe Volatility", "date": "2013-04-15", "value": -0.006},
            {"series": "MSCI Europe Volatility", "date": "2013-04-27", "value": -0.006},
            {"series": "MSCI Europe Volatility", "date": "2013-05-12", "value": -0.005},
            {"series": "MSCI Europe Volatility", "date": "2013-05-27", "value": -0.002},
            {"series": "MSCI Europe Volatility", "date": "2013-06-09", "value": -0.005},
            {"series": "MSCI Europe Volatility", "date": "2013-06-15", "value": -0.012},
            {"series": "MSCI Europe Volatility", "date": "2013-06-27", "value": -0.008},
            {"series": "MSCI Europe Volatility", "date": "2013-07-05", "value": -0.006},
            {"series": "MSCI Europe Volatility", "date": "2013-07-12", "value": -0.001},
            {"series": "MSCI Europe Volatility", "date": "2013-07-18", "value": 0},
            {"series": "MSCI Europe Volatility", "date": "2013-12-28", "value": 0},
            {"series": "MSCI Europe Volatility", "date": "2013-12-31", "value": -0.001},
            {"series": "MSCI Europe Volatility", "date": "2014-01-09", "value": -0.008},
            {"series": "MSCI Europe Volatility", "date": "2014-01-18", "value": -0.012},
            {"series": "MSCI Europe Volatility", "date": "2014-01-27", "value": -0.015},
            {"series": "MSCI Europe Volatility", "date": "2014-02-05", "value": -0.019},
            {"series": "MSCI Europe Volatility", "date": "2014-02-14", "value": -0.017},
            {"series": "MSCI Europe Volatility", "date": "2014-02-23", "value": -0.013},
            {"series": "MSCI Europe Volatility", "date": "2014-03-07", "value": -0.006},
            {"series": "MSCI Europe Volatility", "date": "2014-03-13", "value": -0.005},
            {"series": "MSCI Europe Volatility", "date": "2014-03-19", "value": -0.002},
            {"series": "MSCI Europe Volatility", "date": "2014-03-25", "value": -0.008},
            {"series": "MSCI Europe Volatility", "date": "2014-03-27", "value": -0.034},
            {"series": "MSCI Europe Volatility", "date": "2014-04-03", "value": -0.032},
            {"series": "MSCI Europe Volatility", "date": "2014-04-09", "value": -0.029},
            {"series": "MSCI Europe Volatility", "date": "2014-04-15", "value": -0.032},
            {"series": "MSCI Europe Volatility", "date": "2014-04-24", "value": -0.037},
            {"series": "MSCI Europe Volatility", "date": "2014-05-06", "value": -0.041},
            {"series": "MSCI Europe Volatility", "date": "2014-05-15", "value": -0.036},
            {"series": "MSCI Europe Volatility", "date": "2014-05-24", "value": -0.032},
            {"series": "MSCI Europe Volatility", "date": "2014-06-02", "value": -0.031},
            {"series": "MSCI Europe Volatility", "date": "2014-06-08", "value": -0.027},
            {"series": "MSCI Europe Volatility", "date": "2014-06-14", "value": -0.024},
            {"series": "MSCI Europe Volatility", "date": "2014-06-20", "value": -0.017},
            {"series": "MSCI Europe Volatility", "date": "2014-06-29", "value": -0.013},
            {"series": "MSCI Europe Volatility", "date": "2014-07-04", "value": -0.008},
            {"series": "MSCI Europe Volatility", "date": "2014-07-08", "value": 0},
            {"series": "MSCI Europe Volatility", "date": "2015-07-01", "value": 0},
            {"series": "MSCI Europe Volatility", "date": "2015-07-05", "value": 0.004},
            {"series": "MSCI Europe Volatility", "date": "2015-07-15", "value": 0.003},
            {"series": "MSCI Europe Volatility", "date": "2015-07-22", "value": 0},
            {"series": "MSCI Europe Volatility", "date": "2015-09-25", "value": 0},
            {"series": "MSCI Europe Volatility", "date": "2015-10-01", "value": 0.005},
            {"series": "MSCI Europe Volatility", "date": "2015-10-06", "value": 0.011},
            {"series": "MSCI Europe Volatility", "date": "2015-10-10", "value": 0.011},
            {"series": "MSCI Europe Volatility", "date": "2015-10-14", "value": 0.002},
            {"series": "MSCI Europe Volatility", "date": "2015-10-18", "value": 0},
            {"series": "MSCI Europe Volatility", "date": "2015-11-10", "value": 0},
            {"series": "MSCI Europe Volatility", "date": "2015-11-15", "value": 0.005},
            {"series": "MSCI Europe Volatility", "date": "2015-11-25", "value": 0.003},
            {"series": "MSCI Europe Volatility", "date": "2015-12-01", "value": 0},
            {"series": "MSCI Europe Volatility", "date": "2016-12-06", "value": 0},
            {"series": "MSCI Europe Volatility", "date": "2016-12-09", "value": -0.003},
            {"series": "MSCI Europe Volatility", "date": "2016-12-12", "value": -0.012},
            {"series": "MSCI Europe Volatility", "date": "2016-12-18", "value": -0.012},
            {"series": "MSCI Europe Volatility", "date": "2016-12-27", "value": -0.013},
            {"series": "MSCI Europe Volatility", "date": "2017-01-05", "value": -0.015},
            {"series": "MSCI Europe Volatility", "date": "2017-01-11", "value": -0.003},
            {"series": "MSCI Europe Volatility", "date": "2017-01-14", "value": -0.008},
            {"series": "MSCI Europe Volatility", "date": "2017-01-20", "value": -0.012},
            {"series": "MSCI Europe Volatility", "date": "2017-01-26", "value": -0.011},
            {"series": "MSCI Europe Volatility", "date": "2017-02-01", "value": -0.006},
            {"series": "MSCI Europe Volatility", "date": "2017-02-07", "value": -0.003},
            {"series": "MSCI Europe Volatility", "date": "2017-02-13", "value": -0.002},
            {"series": "MSCI Europe Volatility", "date": "2017-02-19", "value": -0.006},
            {"series": "MSCI Europe Volatility", "date": "2017-02-25", "value": -0.006},
            {"series": "MSCI Europe Volatility", "date": "2017-03-03", "value": -0.010},
            {"series": "MSCI Europe Volatility", "date": "2017-03-06", "value": -0.004},
            {"series": "MSCI Europe Volatility", "date": "2017-03-12", "value": -0.001},
            {"series": "MSCI Europe Volatility", "date": "2017-03-20", "value": 0},
            {"series": "MSCI Europe Volatility", "date": "2017-04-03", "value": 0},
            {"series": "MSCI Europe Volatility", "date": "2017-04-05", "value": -0.003},
            {"series": "MSCI Europe Volatility", "date": "2017-04-07", "value": -0.007},
            {"series": "MSCI Europe Volatility", "date": "2017-04-09", "value": 0},
            {"series": "MSCI Europe Volatility", "date": "2017-10-18", "value": 0},
            {"series": "MSCI Europe Volatility", "date": "2017-10-22", "value": 0.007},
            {"series": "MSCI Europe Volatility", "date": "2017-10-28", "value": 0.003},
            {"series": "MSCI Europe Volatility", "date": "2017-11-09", "value": 0.004},
            {"series": "MSCI Europe Volatility", "date": "2017-11-19", "value": 0.007},
            {"series": "MSCI Europe Volatility", "date": "2017-11-23", "value": 0},
            {"series": "MSCI Europe Volatility", "date": "2018-02-19", "value": 0},

            {"series": "Shangai Return", "date": "2010-10-28", "value": 0.012},
            {"series": "Shangai Return", "date": "2010-11-02", "value": 0.007},
            {"series": "Shangai Return", "date": "2010-11-06", "value": 0.004},
            {"series": "Shangai Return", "date": "2010-11-14", "value": 0.001},
            {"series": "Shangai Return", "date": "2010-11-20", "value": 0},
            {"series": "Shangai Return", "date": "2011-11-05", "value": 0},
            {"series": "Shangai Return", "date": "2011-11-09", "value": -0.010},
            {"series": "Shangai Return", "date": "2011-11-12", "value": -0.055},
            {"series": "Shangai Return", "date": "2011-11-14", "value": -0.034},
            {"series": "Shangai Return", "date": "2011-11-18", "value": -0.039},
            {"series": "Shangai Return", "date": "2011-11-23", "value": -0.041},
            {"series": "Shangai Return", "date": "2011-11-29", "value": -0.031},
            {"series": "Shangai Return", "date": "2011-12-02", "value": -0.017},
            {"series": "Shangai Return", "date": "2011-12-05", "value": -0.012},
            {"series": "Shangai Return", "date": "2011-12-11", "value": -0.022},
            {"series": "Shangai Return", "date": "2011-12-14", "value": -0.020},
            {"series": "Shangai Return", "date": "2011-12-20", "value": -0.031},
            {"series": "Shangai Return", "date": "2011-12-23", "value": -0.020},
            {"series": "Shangai Return", "date": "2011-12-26", "value": -0.015},
            {"series": "Shangai Return", "date": "2012-01-05", "value": -0.013},
            {"series": "Shangai Return", "date": "2012-01-17", "value": -0.008},
            {"series": "Shangai Return", "date": "2012-01-23", "value": -0.013},
            {"series": "Shangai Return", "date": "2012-01-29", "value": -0.006},
            {"series": "Shangai Return", "date": "2012-02-01", "value": -0.003},
            {"series": "Shangai Return", "date": "2012-02-07", "value": -0.027},
            {"series": "Shangai Return", "date": "2012-02-11", "value": -0.030},
            {"series": "Shangai Return", "date": "2012-02-17", "value": -0.020},
            {"series": "Shangai Return", "date": "2012-02-23", "value": -0.013},
            {"series": "Shangai Return", "date": "2012-02-29", "value": -0.012},
            {"series": "Shangai Return", "date": "2012-03-06", "value": -0.006},
            {"series": "Shangai Return", "date": "2012-03-09", "value": -0.012},
            {"series": "Shangai Return", "date": "2012-03-15", "value": -0.020},
            {"series": "Shangai Return", "date": "2012-03-21", "value": -0.020},
            {"series": "Shangai Return", "date": "2012-03-27", "value": -0.023},
            {"series": "Shangai Return", "date": "2012-04-02", "value": -0.025},
            {"series": "Shangai Return", "date": "2012-04-05", "value": -0.037},
            {"series": "Shangai Return", "date": "2012-04-08", "value": -0.043},
            {"series": "Shangai Return", "date": "2012-04-11", "value": -0.052},
            {"series": "Shangai Return", "date": "2012-04-14", "value": -0.029},
            {"series": "Shangai Return", "date": "2012-04-17", "value": -0.013},
            {"series": "Shangai Return", "date": "2012-04-23", "value": -0.005},
            {"series": "Shangai Return", "date": "2012-04-26", "value": -0.001},
            {"series": "Shangai Return", "date": "2012-04-29", "value": 0},
            {"series": "Shangai Return", "date": "2013-03-10", "value": 0},
            {"series": "Shangai Return", "date": "2013-03-13", "value": 0.006},
            {"series": "Shangai Return", "date": "2013-03-16", "value": 0.011},
            {"series": "Shangai Return", "date": "2013-03-22", "value": 0.009},
            {"series": "Shangai Return", "date": "2013-03-28", "value": 0.011},
            {"series": "Shangai Return", "date": "2013-04-03", "value": 0.014},
            {"series": "Shangai Return", "date": "2013-04-09", "value": 0.018},
            {"series": "Shangai Return", "date": "2013-04-15", "value": 0.017},
            {"series": "Shangai Return", "date": "2013-04-21", "value": 0.015},
            {"series": "Shangai Return", "date": "2013-04-30", "value": 0.020},
            {"series": "Shangai Return", "date": "2013-05-09", "value": 0.019},
            {"series": "Shangai Return", "date": "2013-05-21", "value": 0.020},
            {"series": "Shangai Return", "date": "2013-05-30", "value": 0.018},
            {"series": "Shangai Return", "date": "2013-06-09", "value": 0.022},
            {"series": "Shangai Return", "date": "2013-06-18", "value": 0.021},
            {"series": "Shangai Return", "date": "2013-06-27", "value": 0.021},
            {"series": "Shangai Return", "date": "2013-07-03", "value": 0.014},
            {"series": "Shangai Return", "date": "2013-07-09", "value": 0.018},
            {"series": "Shangai Return", "date": "2013-07-15", "value": 0.025},
            {"series": "Shangai Return", "date": "2013-07-21", "value": 0.040},
            {"series": "Shangai Return", "date": "2013-07-27", "value": 0.028},
            {"series": "Shangai Return", "date": "2013-08-02", "value": 0.014},
            {"series": "Shangai Return", "date": "2013-08-08", "value": 0.016},
            {"series": "Shangai Return", "date": "2013-08-14", "value": 0.004},
            {"series": "Shangai Return", "date": "2013-08-20", "value": 0.016},
            {"series": "Shangai Return", "date": "2013-08-26", "value": 0.004},
            {"series": "Shangai Return", "date": "2013-09-01", "value": 0.032},
            {"series": "Shangai Return", "date": "2013-09-07", "value": 0.045},
            {"series": "Shangai Return", "date": "2013-09-10", "value": 0.052},
            {"series": "Shangai Return", "date": "2013-09-16", "value": 0.047},
            {"series": "Shangai Return", "date": "2013-09-22", "value": 0.037},
            {"series": "Shangai Return", "date": "2013-09-28", "value": 0.032},
            {"series": "Shangai Return", "date": "2013-10-07", "value": 0.035},
            {"series": "Shangai Return", "date": "2013-10-13", "value": 0.033},
            {"series": "Shangai Return", "date": "2013-10-19", "value": 0.023},
            {"series": "Shangai Return", "date": "2013-10-22", "value": 0.016},
            {"series": "Shangai Return", "date": "2013-10-28", "value": 0.011},
            {"series": "Shangai Return", "date": "2013-11-03", "value": 0.008},
            {"series": "Shangai Return", "date": "2013-11-09", "value": 0.009},
            {"series": "Shangai Return", "date": "2013-11-15", "value": 0.011},
            {"series": "Shangai Return", "date": "2013-11-25", "value": 0.013},
            {"series": "Shangai Return", "date": "2013-12-04", "value": 0.011},
            {"series": "Shangai Return", "date": "2013-12-10", "value": 0.010},
            {"series": "Shangai Return", "date": "2013-12-17", "value": 0.016},
            {"series": "Shangai Return", "date": "2013-12-22", "value": 0.009},
            {"series": "Shangai Return", "date": "2013-12-27", "value": 0.007},
            {"series": "Shangai Return", "date": "2014-01-01", "value": 0.002},
            {"series": "Shangai Return", "date": "2014-01-06", "value": 0},
            {"series": "Shangai Return", "date": "2014-01-24", "value": 0.002},
            {"series": "Shangai Return", "date": "2014-02-02", "value": 0.004},
            {"series": "Shangai Return", "date": "2014-02-12", "value": 0.001},
            {"series": "Shangai Return", "date": "2014-02-25", "value": 0.001},
            {"series": "Shangai Return", "date": "2014-03-01", "value": 0},
            {"series": "Shangai Return", "date": "2014-04-06", "value": 0},
            {"series": "Shangai Return", "date": "2014-04-09", "value": -0.003},
            {"series": "Shangai Return", "date": "2014-04-13", "value": 0},
            {"series": "Shangai Return", "date": "2014-10-04", "value": 0},
            {"series": "Shangai Return", "date": "2014-10-06", "value": 0.018},
            {"series": "Shangai Return", "date": "2014-10-08", "value": 0.028},
            {"series": "Shangai Return", "date": "2014-10-10", "value": 0.011},
            {"series": "Shangai Return", "date": "2014-10-13", "value": 0.032},
            {"series": "Shangai Return", "date": "2014-10-16", "value": 0.038},
            {"series": "Shangai Return", "date": "2014-10-19", "value": 0.044},
            {"series": "Shangai Return", "date": "2014-10-22", "value": 0.049},
            {"series": "Shangai Return", "date": "2014-10-25", "value": 0.040},
            {"series": "Shangai Return", "date": "2014-10-28", "value": 0.026},
            {"series": "Shangai Return", "date": "2014-10-31", "value": 0.035},
            {"series": "Shangai Return", "date": "2014-11-03", "value": 0.032},
            {"series": "Shangai Return", "date": "2014-11-09", "value": 0.033},
            {"series": "Shangai Return", "date": "2014-11-15", "value": 0.035},
            {"series": "Shangai Return", "date": "2014-11-21", "value": 0.033},
            {"series": "Shangai Return", "date": "2014-11-27", "value": 0.037},
            {"series": "Shangai Return", "date": "2014-12-03", "value": 0.037},
            {"series": "Shangai Return", "date": "2014-12-06", "value": 0.022},
            {"series": "Shangai Return", "date": "2014-12-09", "value": 0.023},
            {"series": "Shangai Return", "date": "2014-12-15", "value": 0.022},
            {"series": "Shangai Return", "date": "2014-12-21", "value": 0.021},
            {"series": "Shangai Return", "date": "2014-12-27", "value": 0.019},
            {"series": "Shangai Return", "date": "2015-01-02", "value": 0.016},
            {"series": "Shangai Return", "date": "2015-01-08", "value": 0.018},
            {"series": "Shangai Return", "date": "2015-01-14", "value": 0.014},
            {"series": "Shangai Return", "date": "2015-01-20", "value": 0.016},
            {"series": "Shangai Return", "date": "2015-01-25", "value": 0.021},
            {"series": "Shangai Return", "date": "2015-01-29", "value": 0.014},
            {"series": "Shangai Return", "date": "2015-02-04", "value": 0.013},
            {"series": "Shangai Return", "date": "2015-02-13", "value": 0.016},
            {"series": "Shangai Return", "date": "2015-02-19", "value": 0.011},
            {"series": "Shangai Return", "date": "2015-02-25", "value": 0.007},
            {"series": "Shangai Return", "date": "2015-03-04", "value": 0.004},
            {"series": "Shangai Return", "date": "2015-03-10", "value": 0.001},
            {"series": "Shangai Return", "date": "2015-03-16", "value": 0},
            {"series": "Shangai Return", "date": "2016-05-13", "value": 0},
            {"series": "Shangai Return", "date": "2016-05-16", "value": -0.001},
            {"series": "Shangai Return", "date": "2016-05-23", "value": -0.006},
            {"series": "Shangai Return", "date": "2016-05-26", "value": -0.013},
            {"series": "Shangai Return", "date": "2016-05-29", "value": -0.018},
            {"series": "Shangai Return", "date": "2016-06-03", "value": -0.017},
            {"series": "Shangai Return", "date": "2016-06-07", "value": -0.010},
            {"series": "Shangai Return", "date": "2016-06-10", "value": -0.006},
            {"series": "Shangai Return", "date": "2016-06-13", "value": 0},
            {"series": "Shangai Return", "date": "2016-08-20", "value": 0},
            {"series": "Shangai Return", "date": "2016-08-22", "value": -0.005},
            {"series": "Shangai Return", "date": "2016-08-24", "value": 0},
            {"series": "Shangai Return", "date": "2017-04-27", "value": 0},
            {"series": "Shangai Return", "date": "2017-05-01", "value": -0.008},
            {"series": "Shangai Return", "date": "2017-05-04", "value": -0.013},
            {"series": "Shangai Return", "date": "2017-05-09", "value": -0.018},
            {"series": "Shangai Return", "date": "2017-05-15", "value": -0.022},
            {"series": "Shangai Return", "date": "2017-05-21", "value": -0.017},
            {"series": "Shangai Return", "date": "2017-05-27", "value": -0.019},
            {"series": "Shangai Return", "date": "2017-06-02", "value": -0.013},
            {"series": "Shangai Return", "date": "2017-06-05", "value": -0.005},
            {"series": "Shangai Return", "date": "2017-06-08", "value": -0.013},
            {"series": "Shangai Return", "date": "2017-06-14", "value": -0.012},
            {"series": "Shangai Return", "date": "2017-06-19", "value": -0.006},
            {"series": "Shangai Return", "date": "2017-06-23", "value": -0.013},
            {"series": "Shangai Return", "date": "2017-06-26", "value": -0.022},
            {"series": "Shangai Return", "date": "2017-07-02", "value": -0.024},
            {"series": "Shangai Return", "date": "2017-07-08", "value": -0.023},
            {"series": "Shangai Return", "date": "2017-07-14", "value": -0.031},
            {"series": "Shangai Return", "date": "2017-07-20", "value": -0.037},
            {"series": "Shangai Return", "date": "2017-07-26", "value": -0.047},
            {"series": "Shangai Return", "date": "2017-08-01", "value": -0.048},
            {"series": "Shangai Return", "date": "2017-08-07", "value": -0.051},
            {"series": "Shangai Return", "date": "2017-08-10", "value": -0.063},
            {"series": "Shangai Return", "date": "2017-08-13", "value": -0.041},
            {"series": "Shangai Return", "date": "2017-08-18", "value": -0.031},
            {"series": "Shangai Return", "date": "2017-08-22", "value": -0.037},
            {"series": "Shangai Return", "date": "2017-08-25", "value": -0.048},
            {"series": "Shangai Return", "date": "2017-08-28", "value": -0.068},
            {"series": "Shangai Return", "date": "2017-08-31", "value": -0.054},
            {"series": "Shangai Return", "date": "2017-09-06", "value": -0.037},
            {"series": "Shangai Return", "date": "2017-09-09", "value": -0.019},
            {"series": "Shangai Return", "date": "2017-09-12", "value": -0.048},
            {"series": "Shangai Return", "date": "2017-09-18", "value": -0.055},
            {"series": "Shangai Return", "date": "2017-09-21", "value": -0.062},
            {"series": "Shangai Return", "date": "2017-09-27", "value": -0.048},
            {"series": "Shangai Return", "date": "2017-10-03", "value": -0.046},
            {"series": "Shangai Return", "date": "2017-10-09", "value": -0.041},
            {"series": "Shangai Return", "date": "2017-10-12", "value": -0.034},
            {"series": "Shangai Return", "date": "2017-10-18", "value": -0.027},
            {"series": "Shangai Return", "date": "2017-10-21", "value": -0.008},
            {"series": "Shangai Return", "date": "2017-10-23", "value": -0.001},
            {"series": "Shangai Return", "date": "2017-10-25", "value": -0.017},
            {"series": "Shangai Return", "date": "2017-10-27", "value": -0.048},
            {"series": "Shangai Return", "date": "2017-10-30", "value": -0.075},
            {"series": "Shangai Return", "date": "2017-11-02", "value": -0.063},
            {"series": "Shangai Return", "date": "2017-11-05", "value": -0.054},
            {"series": "Shangai Return", "date": "2017-11-11", "value": -0.053},
            {"series": "Shangai Return", "date": "2017-11-16", "value": -0.048},
            {"series": "Shangai Return", "date": "2017-11-20", "value": -0.037},
            {"series": "Shangai Return", "date": "2017-11-27", "value": -0.043},
            {"series": "Shangai Return", "date": "2017-12-03", "value": -0.036},
            {"series": "Shangai Return", "date": "2017-12-09", "value": -0.029},
            {"series": "Shangai Return", "date": "2017-12-12", "value": -0.020},
            {"series": "Shangai Return", "date": "2017-12-18", "value": -0.027},
            {"series": "Shangai Return", "date": "2017-12-24", "value": -0.019},
            {"series": "Shangai Return", "date": "2017-12-30", "value": -0.015},
            {"series": "Shangai Return", "date": "2018-01-05", "value": -0.012},
            {"series": "Shangai Return", "date": "2018-01-11", "value": -0.008},
            {"series": "Shangai Return", "date": "2018-01-17", "value": -0.012},
            {"series": "Shangai Return", "date": "2018-01-23", "value": -0.013},
            {"series": "Shangai Return", "date": "2018-01-29", "value": -0.013},
            {"series": "Shangai Return", "date": "2018-02-04", "value": -0.010},
            {"series": "Shangai Return", "date": "2018-02-10", "value": -0.003},
            {"series": "Shangai Return", "date": "2018-02-19", "value": -0.002},

            {"series": "Wikipedia Trend", "date": "2010-10-28", "value": 0},
            {"series": "Wikipedia Trend", "date": "2011-08-25", "value": 0},
            {"series": "Wikipedia Trend", "date": "2011-08-31", "value": -0.003},
            {"series": "Wikipedia Trend", "date": "2011-09-06", "value": -0.004},
            {"series": "Wikipedia Trend", "date": "2011-09-12", "value": -0.006},
            {"series": "Wikipedia Trend", "date": "2011-09-18", "value": -0.003},
            {"series": "Wikipedia Trend", "date": "2011-09-24", "value": -0.008},
            {"series": "Wikipedia Trend", "date": "2011-09-30", "value": -0.006},
            {"series": "Wikipedia Trend", "date": "2011-10-06", "value": -0.004},
            {"series": "Wikipedia Trend", "date": "2011-10-12", "value": -0.003},
            {"series": "Wikipedia Trend", "date": "2011-10-24", "value": -0.004},
            {"series": "Wikipedia Trend", "date": "2011-11-05", "value": -0.004},
            {"series": "Wikipedia Trend", "date": "2011-11-11", "value": -0.003},
            {"series": "Wikipedia Trend", "date": "2011-11-17", "value": -0.005},
            {"series": "Wikipedia Trend", "date": "2011-11-23", "value": -0.006},
            {"series": "Wikipedia Trend", "date": "2011-11-29", "value": -0.004},
            {"series": "Wikipedia Trend", "date": "2011-12-05", "value": -0.008},
            {"series": "Wikipedia Trend", "date": "2011-12-11", "value": -0.006},
            {"series": "Wikipedia Trend", "date": "2011-12-17", "value": -0.006},
            {"series": "Wikipedia Trend", "date": "2011-12-23", "value": -0.007},
            {"series": "Wikipedia Trend", "date": "2011-12-29", "value": -0.006},
            {"series": "Wikipedia Trend", "date": "2012-01-05", "value": -0.005},
            {"series": "Wikipedia Trend", "date": "2012-01-11", "value": -0.003},
            {"series": "Wikipedia Trend", "date": "2012-01-14", "value": -0.001},
            {"series": "Wikipedia Trend", "date": "2012-01-17", "value": 0},
            {"series": "Wikipedia Trend", "date": "2012-08-04", "value": 0},
            {"series": "Wikipedia Trend", "date": "2012-08-07", "value": 0.035},
            {"series": "Wikipedia Trend", "date": "2012-08-10", "value": 0.034},
            {"series": "Wikipedia Trend", "date": "2012-08-16", "value": 0.030},
            {"series": "Wikipedia Trend", "date": "2012-08-25", "value": 0.028},
            {"series": "Wikipedia Trend", "date": "2012-09-03", "value": 0.029},
            {"series": "Wikipedia Trend", "date": "2012-09-09", "value": 0.028},
            {"series": "Wikipedia Trend", "date": "2012-09-15", "value": 0.026},
            {"series": "Wikipedia Trend", "date": "2012-09-21", "value": 0.025},
            {"series": "Wikipedia Trend", "date": "2012-09-24", "value": 0.006},
            {"series": "Wikipedia Trend", "date": "2012-09-27", "value": 0.018},
            {"series": "Wikipedia Trend", "date": "2012-10-03", "value": 0.023},
            {"series": "Wikipedia Trend", "date": "2012-10-06", "value": 0.014},
            {"series": "Wikipedia Trend", "date": "2012-10-09", "value": 0.007},
            {"series": "Wikipedia Trend", "date": "2012-10-13", "value": 0.023},
            {"series": "Wikipedia Trend", "date": "2012-10-17", "value": 0.011},
            {"series": "Wikipedia Trend", "date": "2012-10-22", "value": 0.044},
            {"series": "Wikipedia Trend", "date": "2012-10-25", "value": 0.032},
            {"series": "Wikipedia Trend", "date": "2012-10-28", "value": 0.033},
            {"series": "Wikipedia Trend", "date": "2012-11-01", "value": 0.038},
            {"series": "Wikipedia Trend", "date": "2012-11-05", "value": 0.037},
            {"series": "Wikipedia Trend", "date": "2012-11-09", "value": 0.032},
            {"series": "Wikipedia Trend", "date": "2012-11-13", "value": 0.025},
            {"series": "Wikipedia Trend", "date": "2012-11-16", "value": 0.004},
            {"series": "Wikipedia Trend", "date": "2012-11-19", "value": 0.038},
            {"series": "Wikipedia Trend", "date": "2012-11-23", "value": 0.045},
            {"series": "Wikipedia Trend", "date": "2012-11-27", "value": 0.083},
            {"series": "Wikipedia Trend", "date": "2012-11-30", "value": 0.094},
            {"series": "Wikipedia Trend", "date": "2012-12-03", "value": 0.049},
            {"series": "Wikipedia Trend", "date": "2012-12-08", "value": 0.063},
            {"series": "Wikipedia Trend", "date": "2012-12-11", "value": 0.083},
            {"series": "Wikipedia Trend", "date": "2012-12-13", "value": 0.024},
            {"series": "Wikipedia Trend", "date": "2012-12-17", "value": 0.007},
            {"series": "Wikipedia Trend", "date": "2012-12-21", "value": 0.028},
            {"series": "Wikipedia Trend", "date": "2012-12-24", "value": 0.011},
            {"series": "Wikipedia Trend", "date": "2012-12-27", "value": 0.049},
            {"series": "Wikipedia Trend", "date": "2012-12-30", "value": 0.001},
            {"series": "Wikipedia Trend", "date": "2013-01-03", "value": 0.024},
            {"series": "Wikipedia Trend", "date": "2013-01-06", "value": 0.014},
            {"series": "Wikipedia Trend", "date": "2013-01-09", "value": 0.004},
            {"series": "Wikipedia Trend", "date": "2013-01-15", "value": 0.007},
            {"series": "Wikipedia Trend", "date": "2013-01-21", "value": 0.004},
            {"series": "Wikipedia Trend", "date": "2013-01-27", "value": 0},
            {"series": "Wikipedia Trend", "date": "2013-09-28", "value": 0},
            {"series": "Wikipedia Trend", "date": "2013-09-30", "value": -0.008},
            {"series": "Wikipedia Trend", "date": "2013-10-07", "value": -0.010},
            {"series": "Wikipedia Trend", "date": "2013-10-13", "value": -0.013},
            {"series": "Wikipedia Trend", "date": "2013-10-19", "value": -0.017},
            {"series": "Wikipedia Trend", "date": "2013-10-25", "value": -0.015},
            {"series": "Wikipedia Trend", "date": "2013-10-30", "value": -0.024},
            {"series": "Wikipedia Trend", "date": "2013-11-02", "value": -0.032},
            {"series": "Wikipedia Trend", "date": "2013-11-06", "value": -0.034},
            {"series": "Wikipedia Trend", "date": "2013-11-09", "value": -0.027},
            {"series": "Wikipedia Trend", "date": "2013-11-12", "value": -0.036},
            {"series": "Wikipedia Trend", "date": "2013-11-18", "value": -0.041},
            {"series": "Wikipedia Trend", "date": "2013-11-25", "value": -0.045},
            {"series": "Wikipedia Trend", "date": "2013-12-04", "value": -0.047},
            {"series": "Wikipedia Trend", "date": "2013-12-13", "value": -0.048},
            {"series": "Wikipedia Trend", "date": "2013-12-19", "value": -0.039},
            {"series": "Wikipedia Trend", "date": "2013-12-25", "value": -0.037},
            {"series": "Wikipedia Trend", "date": "2013-12-31", "value": -0.037},
            {"series": "Wikipedia Trend", "date": "2014-01-03", "value": -0.032},
            {"series": "Wikipedia Trend", "date": "2014-01-09", "value": -0.029},
            {"series": "Wikipedia Trend", "date": "2014-01-18", "value": -0.027},
            {"series": "Wikipedia Trend", "date": "2014-01-27", "value": -0.028},
            {"series": "Wikipedia Trend", "date": "2014-02-05", "value": -0.030},
            {"series": "Wikipedia Trend", "date": "2014-02-14", "value": -0.031},
            {"series": "Wikipedia Trend", "date": "2014-02-22", "value": -0.033},
            {"series": "Wikipedia Trend", "date": "2014-02-26", "value": -0.046},
            {"series": "Wikipedia Trend", "date": "2014-03-02", "value": -0.049},
            {"series": "Wikipedia Trend", "date": "2014-03-08", "value": -0.055},
            {"series": "Wikipedia Trend", "date": "2014-03-12", "value": -0.063},
            {"series": "Wikipedia Trend", "date": "2014-03-16", "value": -0.067},
            {"series": "Wikipedia Trend", "date": "2014-03-19", "value": -0.072},
            {"series": "Wikipedia Trend", "date": "2014-03-22", "value": -0.079},
            {"series": "Wikipedia Trend", "date": "2014-03-25", "value": -0.080},
            {"series": "Wikipedia Trend", "date": "2014-03-28", "value": -0.084},
            {"series": "Wikipedia Trend", "date": "2014-04-03", "value": -0.089},
            {"series": "Wikipedia Trend", "date": "2014-04-08", "value": -0.090},
            {"series": "Wikipedia Trend", "date": "2014-04-12", "value": -0.089},
            {"series": "Wikipedia Trend", "date": "2014-04-15", "value": -0.107},
            {"series": "Wikipedia Trend", "date": "2014-04-17", "value": -0.003},
            {"series": "Wikipedia Trend", "date": "2014-04-18", "value": 0},
            {"series": "Wikipedia Trend", "date": "2014-10-25", "value": 0},
            {"series": "Wikipedia Trend", "date": "2014-10-28", "value": 0.001},
            {"series": "Wikipedia Trend", "date": "2014-11-03", "value": 0.003},
            {"series": "Wikipedia Trend", "date": "2014-11-09", "value": 0.004},
            {"series": "Wikipedia Trend", "date": "2014-11-21", "value": 0.005},
            {"series": "Wikipedia Trend", "date": "2014-11-27", "value": 0.007},
            {"series": "Wikipedia Trend", "date": "2014-12-03", "value": 0.011},
            {"series": "Wikipedia Trend", "date": "2014-12-06", "value": 0.018},
            {"series": "Wikipedia Trend", "date": "2014-12-12", "value": 0.013},
            {"series": "Wikipedia Trend", "date": "2014-12-18", "value": 0.014},
            {"series": "Wikipedia Trend", "date": "2014-12-27", "value": 0.013},
            {"series": "Wikipedia Trend", "date": "2015-01-05", "value": 0.013},
            {"series": "Wikipedia Trend", "date": "2015-01-14", "value": 0.011},
            {"series": "Wikipedia Trend", "date": "2015-01-23", "value": 0.010},
            {"series": "Wikipedia Trend", "date": "2015-02-01", "value": 0.009},
            {"series": "Wikipedia Trend", "date": "2015-02-13", "value": 0.009},
            {"series": "Wikipedia Trend", "date": "2015-02-25", "value": 0.007},
            {"series": "Wikipedia Trend", "date": "2015-03-07", "value": 0.007},
            {"series": "Wikipedia Trend", "date": "2015-03-13", "value": 0.011},
            {"series": "Wikipedia Trend", "date": "2015-03-22", "value": 0.013},
            {"series": "Wikipedia Trend", "date": "2015-03-31", "value": 0.011},
            {"series": "Wikipedia Trend", "date": "2015-04-06", "value": 0.009},
            {"series": "Wikipedia Trend", "date": "2015-04-15", "value": 0.008},
            {"series": "Wikipedia Trend", "date": "2015-04-18", "value": 0.012},
            {"series": "Wikipedia Trend", "date": "2015-04-21", "value": 0.025},
            {"series": "Wikipedia Trend", "date": "2015-04-24", "value": 0.023},
            {"series": "Wikipedia Trend", "date": "2015-04-30", "value": 0.025},
            {"series": "Wikipedia Trend", "date": "2015-05-06", "value": 0.025},
            {"series": "Wikipedia Trend", "date": "2015-05-12", "value": 0.014},
            {"series": "Wikipedia Trend", "date": "2015-05-15", "value": 0},
            {"series": "Wikipedia Trend", "date": "2015-06-11", "value": 0},
            {"series": "Wikipedia Trend", "date": "2015-06-13", "value": -0.024},
            {"series": "Wikipedia Trend", "date": "2015-06-15", "value": -0.037},
            {"series": "Wikipedia Trend", "date": "2015-06-18", "value": -0.055},
            {"series": "Wikipedia Trend", "date": "2015-06-20", "value": -0.063},
            {"series": "Wikipedia Trend", "date": "2015-06-22", "value": -0.075},
            {"series": "Wikipedia Trend", "date": "2015-06-24", "value": -0.106},
            {"series": "Wikipedia Trend", "date": "2015-06-26", "value": -0.075},
            {"series": "Wikipedia Trend", "date": "2015-06-29", "value": -0.060},
            {"series": "Wikipedia Trend", "date": "2015-07-03", "value": -0.051},
            {"series": "Wikipedia Trend", "date": "2015-07-08", "value": -0.055},
            {"series": "Wikipedia Trend", "date": "2015-07-14", "value": -0.051},
            {"series": "Wikipedia Trend", "date": "2015-07-17", "value": -0.037},
            {"series": "Wikipedia Trend", "date": "2015-07-20", "value": -0.020},
            {"series": "Wikipedia Trend", "date": "2015-07-23", "value": -0.006},
            {"series": "Wikipedia Trend", "date": "2015-07-26", "value": -0.003},
            {"series": "Wikipedia Trend", "date": "2015-07-31", "value": 0},
            {"series": "Wikipedia Trend", "date": "2016-06-25", "value": 0},
            {"series": "Wikipedia Trend", "date": "2016-06-28", "value": -0.009},
            {"series": "Wikipedia Trend", "date": "2016-07-01", "value": 0},
            {"series": "Wikipedia Trend", "date": "2017-08-16", "value": 0},
            {"series": "Wikipedia Trend", "date": "2017-08-22", "value": 0.007},
            {"series": "Wikipedia Trend", "date": "2017-08-25", "value": 0.018},
            {"series": "Wikipedia Trend", "date": "2017-08-28", "value": 0.057},
            {"series": "Wikipedia Trend", "date": "2017-08-31", "value": 0.070},
            {"series": "Wikipedia Trend", "date": "2017-09-03", "value": 0.066},
            {"series": "Wikipedia Trend", "date": "2017-09-05", "value": 0.045},
            {"series": "Wikipedia Trend", "date": "2017-09-07", "value": 0.063},
            {"series": "Wikipedia Trend", "date": "2017-09-09", "value": 0.018},
            {"series": "Wikipedia Trend", "date": "2017-09-12", "value": 0.040},
            {"series": "Wikipedia Trend", "date": "2017-09-17", "value": 0.061},
            {"series": "Wikipedia Trend", "date": "2017-09-21", "value": 0.075},
            {"series": "Wikipedia Trend", "date": "2017-09-25", "value": 0.078},
            {"series": "Wikipedia Trend", "date": "2017-09-30", "value": 0.075},
            {"series": "Wikipedia Trend", "date": "2017-10-05", "value": 0.076},
            {"series": "Wikipedia Trend", "date": "2017-10-09", "value": 0.057},
            {"series": "Wikipedia Trend", "date": "2017-10-12", "value": 0.045},
            {"series": "Wikipedia Trend", "date": "2017-10-15", "value": 0.042},
            {"series": "Wikipedia Trend", "date": "2017-10-18", "value": 0.038},
            {"series": "Wikipedia Trend", "date": "2017-10-21", "value": 0.032},
            {"series": "Wikipedia Trend", "date": "2017-10-24", "value": 0.014},
            {"series": "Wikipedia Trend", "date": "2017-10-27", "value": 0.009},
            {"series": "Wikipedia Trend", "date": "2017-10-30", "value": 0.018},
            {"series": "Wikipedia Trend", "date": "2017-11-02", "value": 0.021},
            {"series": "Wikipedia Trend", "date": "2017-11-05", "value": 0.049},
            {"series": "Wikipedia Trend", "date": "2017-11-08", "value": 0.063},
            {"series": "Wikipedia Trend", "date": "2017-11-11", "value": 0.071},
            {"series": "Wikipedia Trend", "date": "2017-11-16", "value": 0.073},
            {"series": "Wikipedia Trend", "date": "2017-11-19", "value": 0.057},
            {"series": "Wikipedia Trend", "date": "2017-11-22", "value": 0.045},
            {"series": "Wikipedia Trend", "date": "2017-11-25", "value": 0.032},
            {"series": "Wikipedia Trend", "date": "2017-11-28", "value": 0.051},
            {"series": "Wikipedia Trend", "date": "2017-12-01", "value": 0.054},
            {"series": "Wikipedia Trend", "date": "2017-12-05", "value": 0.056},
            {"series": "Wikipedia Trend", "date": "2017-12-09", "value": 0.063},
            {"series": "Wikipedia Trend", "date": "2017-12-11", "value": 0.035},
            {"series": "Wikipedia Trend", "date": "2017-12-13", "value": 0.052},
            {"series": "Wikipedia Trend", "date": "2017-12-16", "value": 0.066},
            {"series": "Wikipedia Trend", "date": "2017-12-19", "value": 0.078},
            {"series": "Wikipedia Trend", "date": "2017-12-23", "value": 0.086},
            {"series": "Wikipedia Trend", "date": "2017-12-27", "value": 0.080},
            {"series": "Wikipedia Trend", "date": "2018-01-01", "value": 0.083},
            {"series": "Wikipedia Trend", "date": "2018-01-05", "value": 0.080},
            {"series": "Wikipedia Trend", "date": "2018-01-08", "value": 0.073},
            {"series": "Wikipedia Trend", "date": "2018-01-12", "value": 0.068},
            {"series": "Wikipedia Trend", "date": "2018-01-17", "value": 0.064},
            {"series": "Wikipedia Trend", "date": "2018-01-21", "value": 0.057},
            {"series": "Wikipedia Trend", "date": "2018-01-24", "value": 0.050},
            {"series": "Wikipedia Trend", "date": "2018-01-29", "value": 0.046},
            {"series": "Wikipedia Trend", "date": "2018-02-03", "value": 0.045},
            {"series": "Wikipedia Trend", "date": "2018-02-07", "value": 0.042},
            {"series": "Wikipedia Trend", "date": "2018-02-10", "value": 0.046},
            {"series": "Wikipedia Trend", "date": "2018-02-13", "value": 0.045},
            {"series": "Wikipedia Trend", "date": "2018-02-19", "value": 0.045}
          ]},
          "mark": {"type": "line", "strokeWidth": 6, "strokeCap": "butt", "strokeJoin": "round"},
          "encoding": {
            "x": {"field": "date", "type": "temporal", "scale": {"type": "utc", "domain": [{"year": 2010, "month": 10, "date": 28, "utc": true}, {"year": 2018, "month": 2, "date": 19, "utc": true}]},
              "axis": {"orient": "bottom", "grid": true, "title": "Date", "format": "%b %Y", "labelPadding": 6, "titlePadding": 4, "labelFlush": false, "labelOverlap": false,
                "values": [{"year": 2011, "month": 1, "date": 1, "utc": true}, {"year": 2012, "month": 1, "date": 1, "utc": true}, {"year": 2013, "month": 1, "date": 1, "utc": true}, {"year": 2014, "month": 1, "date": 1, "utc": true}, {"year": 2015, "month": 1, "date": 1, "utc": true}, {"year": 2016, "month": 1, "date": 1, "utc": true}, {"year": 2017, "month": 1, "date": 1, "utc": true}, {"year": 2018, "month": 1, "date": 1, "utc": true}]}},
            "y": {"field": "value", "type": "quantitative", "scale": {"domain": [-0.1317, 0.1317], "nice": false, "zero": false},
              "axis": {"orient": "left", "grid": true, "title": "Coefficient", "labelPadding": 11, "titlePadding": 0, "values": [-0.1, -0.05, 0, 0.05, 0.1], "labelExpr": "replace(format(datum.value, '.2f'), '−', '-')"}},
            "color": {"field": "series", "type": "nominal", "legend": null,
              "scale": {"domain": ["China Bond Yield", "Google Trend", "MSCI Europe Volatility", "Shangai Return", "Wikipedia Trend"], "range": ["#000000", "#FF0000", "#0000FF", "#00FF00", "#A020F0"]}},
            "strokeDash": {"field": "series", "type": "nominal", "legend": null,
              "scale": {"domain": ["China Bond Yield", "Google Trend", "MSCI Europe Volatility", "Shangai Return", "Wikipedia Trend"], "range": [[1, 0], [24, 24], [6, 18], [6, 18, 24, 18], [12, 12, 36, 12]]}}
          }
        }
      ]
    },
    {
      "title": "(b) Second five most-often non-zero coefficients",
      "width": 3103,
      "height": 1326,
      "resolve": {"axis": {"x": "independent", "y": "independent"}},
      "layer": [
        {
          "data": {"values": [{"date": "2011-01-01", "value": 0}]},
          "mark": {"type": "point", "opacity": 0},
          "encoding": {
            "x": {"field": "date", "type": "temporal", "scale": {"type": "utc", "domain": [{"year": 2010, "month": 10, "date": 28, "utc": true}, {"year": 2018, "month": 2, "date": 19, "utc": true}]},
              "axis": {"orient": "bottom", "grid": true, "gridWidth": 2.3, "labels": false, "ticks": false, "title": null,
                "values": [{"year": 2011, "month": 7, "date": 1, "utc": true}, {"year": 2012, "month": 7, "date": 1, "utc": true}, {"year": 2013, "month": 7, "date": 1, "utc": true}, {"year": 2014, "month": 7, "date": 1, "utc": true}, {"year": 2015, "month": 7, "date": 1, "utc": true}, {"year": 2016, "month": 7, "date": 1, "utc": true}, {"year": 2017, "month": 7, "date": 1, "utc": true}]}},
            "y": {"field": "value", "type": "quantitative", "scale": {"domain": [-0.12, 0.12], "nice": false, "zero": false},
              "axis": {"orient": "left", "grid": true, "gridWidth": 2.3, "labels": false, "ticks": false, "title": null, "values": [-0.075, -0.025, 0.025, 0.075]}}
          }
        },
        {
          "data": {"values": [
            {"series": "Australia EPU", "date": "2010-10-28", "value": 0},
            {"series": "MSCI Europe Return", "date": "2010-10-28", "value": 0},
            {"series": "Nasdaq Return", "date": "2010-10-28", "value": 0},
            {"series": "US Equity EPU", "date": "2010-10-28", "value": 0},
            {"series": "USD/EUR Return", "date": "2010-10-28", "value": 0}
          ]},
          "mark": {"type": "line", "strokeWidth": 6, "strokeCap": "butt"},
          "encoding": {
            "x": {"field": "date", "type": "temporal", "axis": null},
            "y": {"field": "value", "type": "quantitative", "axis": null},
            "color": {"field": "series", "type": "nominal",
              "scale": {"domain": ["Australia EPU", "MSCI Europe Return", "Nasdaq Return", "US Equity EPU", "USD/EUR Return"], "range": ["#000000", "#FF0000", "#0000FF", "#00FF00", "#A020F0"]},
              "legend": {"title": null, "orient": "none", "direction": "horizontal", "legendX": 79, "legendY": 1514, "labelFontSize": 61.5, "labelOffset": 37, "columnPadding": 1,
                "encoding": {"symbols": {"strokeDash": {"value": {"expr": "datum.value === 'MSCI Europe Return' ? [68, 68] : datum.value === 'Nasdaq Return' ? [17, 51] : datum.value === 'US Equity EPU' ? [17, 51, 68, 51] : datum.value === 'USD/EUR Return' ? [34, 34, 102, 34] : [1, 0]"}}}}}}
          }
        },
        {
          "data": {"values": [
            {"series": "Australia EPU", "date": "2010-10-28", "value": -0.013},
            {"series": "Australia EPU", "date": "2010-10-31", "value": -0.010},
            {"series": "Australia EPU", "date": "2010-11-03", "value": -0.014},
            {"series": "Australia EPU", "date": "2010-11-05", "value": -0.008},
            {"series": "Australia EPU", "date": "2010-11-08", "value": -0.013},
            {"series": "Australia EPU", "date": "2010-11-11", "value": -0.007},
            {"series": "Australia EPU", "date": "2010-11-14", "value": -0.004},
            {"series": "Australia EPU", "date": "2010-11-20", "value": -0.003},
            {"series": "Australia EPU", "date": "2010-11-27", "value": -0.002},
            {"series": "Australia EPU", "date": "2010-12-03", "value": 0},
            {"series": "Australia EPU", "date": "2011-01-17", "value": 0},
            {"series": "Australia EPU", "date": "2011-01-19", "value": -0.029},
            {"series": "Australia EPU", "date": "2011-01-21", "value": -0.021},
            {"series": "Australia EPU", "date": "2011-01-23", "value": -0.015},
            {"series": "Australia EPU", "date": "2011-01-26", "value": -0.019},
            {"series": "Australia EPU", "date": "2011-01-29", "value": -0.035},
            {"series": "Australia EPU", "date": "2011-02-01", "value": -0.048},
            {"series": "Australia EPU", "date": "2011-02-04", "value": -0.052},
            {"series": "Australia EPU", "date": "2011-02-07", "value": -0.046},
            {"series": "Australia EPU", "date": "2011-02-10", "value": -0.044},
            {"series": "Australia EPU", "date": "2011-02-13", "value": -0.041},
            {"series": "Australia EPU", "date": "2011-02-16", "value": -0.032},
            {"series": "Australia EPU", "date": "2011-02-20", "value": -0.059},
            {"series": "Australia EPU", "date": "2011-02-23", "value": -0.035},
            {"series": "Australia EPU", "date": "2011-02-25", "value": -0.002},
            {"series": "Australia EPU", "date": "2011-02-27", "value": -0.016},
            {"series": "Australia EPU", "date": "2011-03-01", "value": -0.002},
            {"series": "Australia EPU", "date": "2011-03-04", "value": -0.030},
            {"series": "Australia EPU", "date": "2011-03-07", "value": -0.019},
            {"series": "Australia EPU", "date": "2011-03-10", "value": -0.022},
            {"series": "Australia EPU", "date": "2011-03-13", "value": -0.008},
            {"series": "Australia EPU", "date": "2011-03-16", "value": -0.021},
            {"series": "Australia EPU", "date": "2011-03-19", "value": -0.019},
            {"series": "Australia EPU", "date": "2011-03-22", "value": -0.025},
            {"series": "Australia EPU", "date": "2011-03-25", "value": -0.029},
            {"series": "Australia EPU", "date": "2011-03-28", "value": -0.046},
            {"series": "Australia EPU", "date": "2011-03-31", "value": -0.025},
            {"series": "Australia EPU", "date": "2011-04-03", "value": -0.022},
            {"series": "Australia EPU", "date": "2011-04-06", "value": -0.021},
            {"series": "Australia EPU", "date": "2011-04-09", "value": -0.018},
            {"series": "Australia EPU", "date": "2011-04-12", "value": -0.016},
            {"series": "Australia EPU", "date": "2011-04-15", "value": -0.021},
            {"series": "Australia EPU", "date": "2011-04-18", "value": -0.022},
            {"series": "Australia EPU", "date": "2011-04-21", "value": -0.029},
            {"series": "Australia EPU", "date": "2011-04-24", "value": -0.033},
            {"series": "Australia EPU", "date": "2011-04-27", "value": -0.035},
            {"series": "Australia EPU", "date": "2011-04-29", "value": -0.071},
            {"series": "Australia EPU", "date": "2011-05-01", "value": -0.035},
            {"series": "Australia EPU", "date": "2011-05-04", "value": -0.037},
            {"series": "Australia EPU", "date": "2011-05-09", "value": -0.035},
            {"series": "Australia EPU", "date": "2011-05-12", "value": -0.027},
            {"series": "Australia EPU", "date": "2011-05-15", "value": -0.026},
            {"series": "Australia EPU", "date": "2011-05-18", "value": -0.033},
            {"series": "Australia EPU", "date": "2011-05-21", "value": -0.026},
            {"series": "Australia EPU", "date": "2011-05-24", "value": -0.027},
            {"series": "Australia EPU", "date": "2011-05-27", "value": -0.026},
            {"series": "Australia EPU", "date": "2011-06-02", "value": -0.032},
            {"series": "Australia EPU", "date": "2011-06-08", "value": -0.040},
            {"series": "Australia EPU", "date": "2011-06-14", "value": -0.044},
            {"series": "Australia EPU", "date": "2011-06-17", "value": -0.054},
            {"series": "Australia EPU", "date": "2011-06-20", "value": -0.047},
            {"series": "Australia EPU", "date": "2011-06-23", "value": -0.043},
            {"series": "Australia EPU", "date": "2011-06-26", "value": -0.007},
            {"series": "Australia EPU", "date": "2011-06-29", "value": -0.051},
            {"series": "Australia EPU", "date": "2011-07-02", "value": -0.057},
            {"series": "Australia EPU", "date": "2011-07-05", "value": -0.063},
            {"series": "Australia EPU", "date": "2011-07-08", "value": -0.044},
            {"series": "Australia EPU", "date": "2011-07-11", "value": -0.051},
            {"series": "Australia EPU", "date": "2011-07-14", "value": -0.044},
            {"series": "Australia EPU", "date": "2011-07-17", "value": -0.047},
            {"series": "Australia EPU", "date": "2011-07-20", "value": -0.052},
            {"series": "Australia EPU", "date": "2011-07-23", "value": -0.040},
            {"series": "Australia EPU", "date": "2011-07-26", "value": -0.037},
            {"series": "Australia EPU", "date": "2011-08-01", "value": -0.030},
            {"series": "Australia EPU", "date": "2011-08-07", "value": -0.019},
            {"series": "Australia EPU", "date": "2011-08-10", "value": -0.027},
            {"series": "Australia EPU", "date": "2011-08-13", "value": -0.013},
            {"series": "Australia EPU", "date": "2011-08-16", "value": -0.004},
            {"series": "Australia EPU", "date": "2011-08-19", "value": 0},
            {"series": "Australia EPU", "date": "2011-12-13", "value": 0},
            {"series": "Australia EPU", "date": "2011-12-19", "value": 0.006},
            {"series": "Australia EPU", "date": "2011-12-22", "value": 0.007},
            {"series": "Australia EPU", "date": "2011-12-25", "value": 0.001},
            {"series": "Australia EPU", "date": "2011-12-28", "value": 0.007},
            {"series": "Australia EPU", "date": "2012-01-06", "value": 0.003},
            {"series": "Australia EPU", "date": "2012-01-24", "value": 0.001},
            {"series": "Australia EPU", "date": "2012-02-11", "value": 0.001},
            {"series": "Australia EPU", "date": "2012-02-20", "value": 0.006},
            {"series": "Australia EPU", "date": "2012-02-23", "value": 0.021},
            {"series": "Australia EPU", "date": "2012-02-26", "value": 0.027},
            {"series": "Australia EPU", "date": "2012-02-29", "value": 0.025},
            {"series": "Australia EPU", "date": "2012-03-03", "value": 0.015},
            {"series": "Australia EPU", "date": "2012-03-06", "value": 0.021},
            {"series": "Australia EPU", "date": "2012-03-09", "value": 0.004},
            {"series": "Australia EPU", "date": "2012-03-12", "value": 0.019},
            {"series": "Australia EPU", "date": "2012-03-15", "value": 0.020},
            {"series": "Australia EPU", "date": "2012-03-18", "value": 0.023},
            {"series": "Australia EPU", "date": "2012-03-24", "value": 0.025},
            {"series": "Australia EPU", "date": "2012-03-27", "value": 0.018},
            {"series": "Australia EPU", "date": "2012-03-30", "value": 0.015},
            {"series": "Australia EPU", "date": "2012-04-02", "value": 0.013},
            {"series": "Australia EPU", "date": "2012-04-05", "value": 0.010},
            {"series": "Australia EPU", "date": "2012-04-08", "value": 0.003},
            {"series": "Australia EPU", "date": "2012-04-10", "value": 0},
            {"series": "Australia EPU", "date": "2012-05-09", "value": 0},
            {"series": "Australia EPU", "date": "2012-05-11", "value": 0.012},
            {"series": "Australia EPU", "date": "2012-05-13", "value": 0.003},
            {"series": "Australia EPU", "date": "2012-05-15", "value": 0},
            {"series": "Australia EPU", "date": "2012-11-06", "value": 0},
            {"series": "Australia EPU", "date": "2012-11-09", "value": -0.011},
            {"series": "Australia EPU", "date": "2012-11-12", "value": -0.007},
            {"series": "Australia EPU", "date": "2012-11-15", "value": -0.014},
            {"series": "Australia EPU", "date": "2012-11-18", "value": -0.019},
            {"series": "Australia EPU", "date": "2012-11-21", "value": -0.016},
            {"series": "Australia EPU", "date": "2012-11-24", "value": -0.027},
            {"series": "Australia EPU", "date": "2012-11-27", "value": -0.052},
            {"series": "Australia EPU", "date": "2012-11-30", "value": -0.060},
            {"series": "Australia EPU", "date": "2012-12-03", "value": -0.050},
            {"series": "Australia EPU", "date": "2012-12-06", "value": -0.041},
            {"series": "Australia EPU", "date": "2012-12-09", "value": -0.047},
            {"series": "Australia EPU", "date": "2012-12-12", "value": -0.052},
            {"series": "Australia EPU", "date": "2012-12-15", "value": -0.060},
            {"series": "Australia EPU", "date": "2012-12-18", "value": -0.068},
            {"series": "Australia EPU", "date": "2012-12-21", "value": -0.065},
            {"series": "Australia EPU", "date": "2012-12-24", "value": -0.058},
            {"series": "Australia EPU", "date": "2012-12-27", "value": -0.048},
            {"series": "Australia EPU", "date": "2012-12-30", "value": -0.035},
            {"series": "Australia EPU", "date": "2013-01-02", "value": -0.030},
            {"series": "Australia EPU", "date": "2013-01-05", "value": -0.032},
            {"series": "Australia EPU", "date": "2013-01-11", "value": -0.033},
            {"series": "Australia EPU", "date": "2013-01-18", "value": -0.035},
            {"series": "Australia EPU", "date": "2013-01-24", "value": -0.033},
            {"series": "Australia EPU", "date": "2013-01-27", "value": -0.029},
            {"series": "Australia EPU", "date": "2013-02-02", "value": -0.032},
            {"series": "Australia EPU", "date": "2013-02-08", "value": -0.026},
            {"series": "Australia EPU", "date": "2013-02-14", "value": -0.027},
            {"series": "Australia EPU", "date": "2013-02-20", "value": -0.033},
            {"series": "Australia EPU", "date": "2013-02-26", "value": -0.038},
            {"series": "Australia EPU", "date": "2013-03-04", "value": -0.041},
            {"series": "Australia EPU", "date": "2013-03-10", "value": -0.046},
            {"series": "Australia EPU", "date": "2013-03-16", "value": -0.043},
            {"series": "Australia EPU", "date": "2013-03-19", "value": -0.038},
            {"series": "Australia EPU", "date": "2013-03-22", "value": -0.030},
            {"series": "Australia EPU", "date": "2013-03-25", "value": -0.016},
            {"series": "Australia EPU", "date": "2013-03-28", "value": -0.026},
            {"series": "Australia EPU", "date": "2013-03-31", "value": -0.019},
            {"series": "Australia EPU", "date": "2013-04-03", "value": -0.024},
            {"series": "Australia EPU", "date": "2013-04-07", "value": -0.016},
            {"series": "Australia EPU", "date": "2013-04-11", "value": -0.011},
            {"series": "Australia EPU", "date": "2013-04-15", "value": -0.002},
            {"series": "Australia EPU", "date": "2013-04-18", "value": 0},
            {"series": "Australia EPU", "date": "2013-07-17", "value": 0},
            {"series": "Australia EPU", "date": "2013-07-19", "value": 0.012},
            {"series": "Australia EPU", "date": "2013-07-21", "value": 0},
            {"series": "Australia EPU", "date": "2013-08-08", "value": 0},
            {"series": "Australia EPU", "date": "2013-08-10", "value": -0.027},
            {"series": "Australia EPU", "date": "2013-08-13", "value": -0.015},
            {"series": "Australia EPU", "date": "2013-08-16", "value": -0.023},
            {"series": "Australia EPU", "date": "2013-08-19", "value": -0.029},
            {"series": "Australia EPU", "date": "2013-08-23", "value": -0.033},
            {"series": "Australia EPU", "date": "2013-08-26", "value": -0.019},
            {"series": "Australia EPU", "date": "2013-08-29", "value": -0.004},
            {"series": "Australia EPU", "date": "2013-08-31", "value": 0},
            {"series": "Australia EPU", "date": "2014-08-11", "value": 0},
            {"series": "Australia EPU", "date": "2014-08-14", "value": -0.015},
            {"series": "Australia EPU", "date": "2014-08-17", "value": -0.016},
            {"series": "Australia EPU", "date": "2014-08-20", "value": -0.019},
            {"series": "Australia EPU", "date": "2014-08-23", "value": -0.021},
            {"series": "Australia EPU", "date": "2014-08-26", "value": -0.016},
            {"series": "Australia EPU", "date": "2014-08-29", "value": -0.008},
            {"series": "Australia EPU", "date": "2014-08-31", "value": 0},
            {"series": "Australia EPU", "date": "2014-09-22", "value": 0},
            {"series": "Australia EPU", "date": "2014-09-25", "value": -0.004},
            {"series": "Australia EPU", "date": "2014-09-28", "value": -0.007},
            {"series": "Australia EPU", "date": "2014-10-01", "value": -0.011},
            {"series": "Australia EPU", "date": "2014-10-04", "value": -0.041},
            {"series": "Australia EPU", "date": "2014-10-07", "value": -0.016},
            {"series": "Australia EPU", "date": "2014-10-10", "value": -0.004},
            {"series": "Australia EPU", "date": "2014-10-16", "value": 0},
            {"series": "Australia EPU", "date": "2014-11-25", "value": 0},
            {"series": "Australia EPU", "date": "2014-12-01", "value": 0.003},
            {"series": "Australia EPU", "date": "2014-12-07", "value": 0.005},
            {"series": "Australia EPU", "date": "2014-12-13", "value": 0.003},
            {"series": "Australia EPU", "date": "2014-12-19", "value": 0},
            {"series": "Australia EPU", "date": "2015-04-18", "value": 0},
            {"series": "Australia EPU", "date": "2015-04-22", "value": 0.012},
            {"series": "Australia EPU", "date": "2015-04-24", "value": 0.025},
            {"series": "Australia EPU", "date": "2015-04-27", "value": 0.018},
            {"series": "Australia EPU", "date": "2015-04-30", "value": 0.012},
            {"series": "Australia EPU", "date": "2015-05-03", "value": 0.015},
            {"series": "Australia EPU", "date": "2015-05-06", "value": 0.028},
            {"series": "Australia EPU", "date": "2015-05-09", "value": 0.036},
            {"series": "Australia EPU", "date": "2015-05-12", "value": 0.020},
            {"series": "Australia EPU", "date": "2015-05-15", "value": 0.021},
            {"series": "Australia EPU", "date": "2015-05-18", "value": 0.014},
            {"series": "Australia EPU", "date": "2015-05-21", "value": 0.009},
            {"series": "Australia EPU", "date": "2015-05-24", "value": 0.006},
            {"series": "Australia EPU", "date": "2015-05-27", "value": 0.009},
            {"series": "Australia EPU", "date": "2015-05-30", "value": 0.003},
            {"series": "Australia EPU", "date": "2015-06-02", "value": 0.015},
            {"series": "Australia EPU", "date": "2015-06-05", "value": 0.009},
            {"series": "Australia EPU", "date": "2015-06-07", "value": 0},
            {"series": "Australia EPU", "date": "2015-07-21", "value": 0},
            {"series": "Australia EPU", "date": "2015-07-24", "value": -0.019},
            {"series": "Australia EPU", "date": "2015-07-26", "value": -0.030},
            {"series": "Australia EPU", "date": "2015-07-28", "value": -0.002},
            {"series": "Australia EPU", "date": "2015-07-30", "value": 0},
            {"series": "Australia EPU", "date": "2016-03-02", "value": 0},
            {"series": "Australia EPU", "date": "2016-03-04", "value": 0.037},
            {"series": "Australia EPU", "date": "2016-03-06", "value": 0.056},
            {"series": "Australia EPU", "date": "2016-03-08", "value": 0.034},
            {"series": "Australia EPU", "date": "2016-03-11", "value": 0.012},
            {"series": "Australia EPU", "date": "2016-03-14", "value": 0},
            {"series": "Australia EPU", "date": "2016-03-23", "value": 0},
            {"series": "Australia EPU", "date": "2016-03-26", "value": 0.001},
            {"series": "Australia EPU", "date": "2016-03-29", "value": 0},
            {"series": "Australia EPU", "date": "2016-09-08", "value": 0},
            {"series": "Australia EPU", "date": "2016-09-10", "value": -0.019},
            {"series": "Australia EPU", "date": "2016-09-14", "value": -0.018},
            {"series": "Australia EPU", "date": "2016-09-17", "value": -0.016},
            {"series": "Australia EPU", "date": "2016-09-20", "value": -0.020},
            {"series": "Australia EPU", "date": "2016-09-23", "value": -0.021},
            {"series": "Australia EPU", "date": "2016-09-26", "value": -0.008},
            {"series": "Australia EPU", "date": "2016-09-29", "value": -0.016},
            {"series": "Australia EPU", "date": "2016-10-03", "value": -0.019},
            {"series": "Australia EPU", "date": "2016-10-06", "value": -0.015},
            {"series": "Australia EPU", "date": "2016-10-10", "value": -0.016},
            {"series": "Australia EPU", "date": "2016-10-15", "value": -0.013},
            {"series": "Australia EPU", "date": "2016-10-21", "value": -0.015},
            {"series": "Australia EPU", "date": "2016-10-24", "value": -0.019},
            {"series": "Australia EPU", "date": "2016-10-28", "value": -0.012},
            {"series": "Australia EPU", "date": "2016-11-02", "value": -0.011},
            {"series": "Australia EPU", "date": "2016-11-07", "value": -0.011},
            {"series": "Australia EPU", "date": "2016-11-08", "value": 0},
            {"series": "Australia EPU", "date": "2017-06-02", "value": 0},
            {"series": "Australia EPU", "date": "2017-06-05", "value": 0.012},
            {"series": "Australia EPU", "date": "2017-06-08", "value": 0},
            {"series": "Australia EPU", "date": "2017-06-23", "value": 0},
            {"series": "Australia EPU", "date": "2017-06-26", "value": 0.003},
            {"series": "Australia EPU", "date": "2017-07-02", "value": 0.009},
            {"series": "Australia EPU", "date": "2017-07-05", "value": 0.003},
            {"series": "Australia EPU", "date": "2017-07-08", "value": 0.001},
            {"series": "Australia EPU", "date": "2017-07-14", "value": 0},
            {"series": "Australia EPU", "date": "2017-07-20", "value": 0.006},
            {"series": "Australia EPU", "date": "2017-07-26", "value": 0.009},
            {"series": "Australia EPU", "date": "2017-07-30", "value": 0.012},
            {"series": "Australia EPU", "date": "2017-08-04", "value": 0.006},
            {"series": "Australia EPU", "date": "2017-08-07", "value": 0.012},
            {"series": "Australia EPU", "date": "2017-08-10", "value": 0.003},
            {"series": "Australia EPU", "date": "2017-08-13", "value": 0.009},
            {"series": "Australia EPU", "date": "2017-08-18", "value": 0.006},
            {"series": "Australia EPU", "date": "2017-08-22", "value": 0.012},
            {"series": "Australia EPU", "date": "2017-08-25", "value": 0.018},
            {"series": "Australia EPU", "date": "2017-08-28", "value": 0.034},
            {"series": "Australia EPU", "date": "2017-08-31", "value": 0.028},
            {"series": "Australia EPU", "date": "2017-09-03", "value": 0.031},
            {"series": "Australia EPU", "date": "2017-09-06", "value": 0.032},
            {"series": "Australia EPU", "date": "2017-09-09", "value": 0.021},
            {"series": "Australia EPU", "date": "2017-09-12", "value": 0.009},
            {"series": "Australia EPU", "date": "2017-09-15", "value": 0.003},
            {"series": "Australia EPU", "date": "2017-09-18", "value": 0.001},
            {"series": "Australia EPU", "date": "2017-09-24", "value": 0.006},
            {"series": "Australia EPU", "date": "2017-09-30", "value": 0.001},
            {"series": "Australia EPU", "date": "2017-10-06", "value": 0.006},
            {"series": "Australia EPU", "date": "2017-10-11", "value": 0.011},
            {"series": "Australia EPU", "date": "2017-10-14", "value": 0.001},
            {"series": "Australia EPU", "date": "2017-10-18", "value": 0.009},
            {"series": "Australia EPU", "date": "2017-10-21", "value": 0.043},
            {"series": "Australia EPU", "date": "2017-10-24", "value": 0.042},
            {"series": "Australia EPU", "date": "2017-10-27", "value": 0.028},
            {"series": "Australia EPU", "date": "2017-10-30", "value": 0.045},
            {"series": "Australia EPU", "date": "2017-11-02", "value": 0.040},
            {"series": "Australia EPU", "date": "2017-11-05", "value": 0.023},
            {"series": "Australia EPU", "date": "2017-11-08", "value": 0.009},
            {"series": "Australia EPU", "date": "2017-11-11", "value": 0.001},
            {"series": "Australia EPU", "date": "2017-11-13", "value": 0},
            {"series": "Australia EPU", "date": "2018-02-19", "value": 0},

            {"series": "MSCI Europe Return", "date": "2010-10-28", "value": 0},
            {"series": "MSCI Europe Return", "date": "2010-11-03", "value": 0.001},
            {"series": "MSCI Europe Return", "date": "2010-11-11", "value": 0.003},
            {"series": "MSCI Europe Return", "date": "2010-11-20", "value": 0.001},
            {"series": "MSCI Europe Return", "date": "2010-12-03", "value": 0.001},
            {"series": "MSCI Europe Return", "date": "2010-12-15", "value": 0.002},
            {"series": "MSCI Europe Return", "date": "2010-12-24", "value": 0.003},
            {"series": "MSCI Europe Return", "date": "2011-01-01", "value": 0.001},
            {"series": "MSCI Europe Return", "date": "2011-01-08", "value": 0},
            {"series": "MSCI Europe Return", "date": "2011-05-01", "value": 0},
            {"series": "MSCI Europe Return", "date": "2011-05-05", "value": 0.005},
            {"series": "MSCI Europe Return", "date": "2011-05-08", "value": 0},
            {"series": "MSCI Europe Return", "date": "2011-09-10", "value": 0},
            {"series": "MSCI Europe Return", "date": "2011-09-15", "value": 0.009},
            {"series": "MSCI Europe Return", "date": "2011-09-19", "value": 0},
            {"series": "MSCI Europe Return", "date": "2012-01-04", "value": 0},
            {"series": "MSCI Europe Return", "date": "2012-01-10", "value": 0.009},
            {"series": "MSCI Europe Return", "date": "2012-01-19", "value": 0.003},
            {"series": "MSCI Europe Return", "date": "2012-01-28", "value": 0.009},
            {"series": "MSCI Europe Return", "date": "2012-02-02", "value": 0},
            {"series": "MSCI Europe Return", "date": "2012-12-25", "value": 0},
            {"series": "MSCI Europe Return", "date": "2012-12-31", "value": -0.002},
            {"series": "MSCI Europe Return", "date": "2013-01-03", "value": -0.013},
            {"series": "MSCI Europe Return", "date": "2013-01-09", "value": -0.016},
            {"series": "MSCI Europe Return", "date": "2013-01-15", "value": -0.021},
            {"series": "MSCI Europe Return", "date": "2013-01-21", "value": -0.024},
            {"series": "MSCI Europe Return", "date": "2013-01-27", "value": -0.018},
            {"series": "MSCI Europe Return", "date": "2013-02-02", "value": -0.019},
            {"series": "MSCI Europe Return", "date": "2013-02-08", "value": -0.021},
            {"series": "MSCI Europe Return", "date": "2013-02-14", "value": -0.022},
            {"series": "MSCI Europe Return", "date": "2013-02-20", "value": -0.019},
            {"series": "MSCI Europe Return", "date": "2013-02-26", "value": -0.018},
            {"series": "MSCI Europe Return", "date": "2013-03-04", "value": -0.014},
            {"series": "MSCI Europe Return", "date": "2013-03-10", "value": -0.013},
            {"series": "MSCI Europe Return", "date": "2013-03-16", "value": -0.010},
            {"series": "MSCI Europe Return", "date": "2013-03-22", "value": -0.008},
            {"series": "MSCI Europe Return", "date": "2013-03-28", "value": -0.005},
            {"series": "MSCI Europe Return", "date": "2013-04-03", "value": -0.004},
            {"series": "MSCI Europe Return", "date": "2013-04-09", "value": -0.004},
            {"series": "MSCI Europe Return", "date": "2013-04-15", "value": -0.005},
            {"series": "MSCI Europe Return", "date": "2013-04-21", "value": -0.005},
            {"series": "MSCI Europe Return", "date": "2013-05-03", "value": -0.008},
            {"series": "MSCI Europe Return", "date": "2013-05-12", "value": -0.008},
            {"series": "MSCI Europe Return", "date": "2013-05-21", "value": -0.008},
            {"series": "MSCI Europe Return", "date": "2013-06-03", "value": -0.008},
            {"series": "MSCI Europe Return", "date": "2013-06-09", "value": -0.011},
            {"series": "MSCI Europe Return", "date": "2013-06-15", "value": -0.015},
            {"series": "MSCI Europe Return", "date": "2013-06-21", "value": -0.013},
            {"series": "MSCI Europe Return", "date": "2013-06-27", "value": -0.011},
            {"series": "MSCI Europe Return", "date": "2013-07-03", "value": -0.010},
            {"series": "MSCI Europe Return", "date": "2013-07-09", "value": -0.008},
            {"series": "MSCI Europe Return", "date": "2013-07-18", "value": -0.010},
            {"series": "MSCI Europe Return", "date": "2013-07-24", "value": -0.004},
            {"series": "MSCI Europe Return", "date": "2013-07-30", "value": -0.001},
            {"series": "MSCI Europe Return", "date": "2013-08-14", "value": 0},
            {"series": "MSCI Europe Return", "date": "2013-10-25", "value": 0},
            {"series": "MSCI Europe Return", "date": "2013-10-31", "value": -0.002},
            {"series": "MSCI Europe Return", "date": "2013-11-12", "value": -0.004},
            {"series": "MSCI Europe Return", "date": "2013-11-25", "value": -0.005},
            {"series": "MSCI Europe Return", "date": "2013-12-07", "value": -0.003},
            {"series": "MSCI Europe Return", "date": "2013-12-19", "value": -0.002},
            {"series": "MSCI Europe Return", "date": "2013-12-28", "value": -0.004},
            {"series": "MSCI Europe Return", "date": "2014-01-03", "value": -0.008},
            {"series": "MSCI Europe Return", "date": "2014-01-12", "value": -0.011},
            {"series": "MSCI Europe Return", "date": "2014-01-24", "value": -0.011},
            {"series": "MSCI Europe Return", "date": "2014-01-30", "value": -0.012},
            {"series": "MSCI Europe Return", "date": "2014-02-08", "value": -0.013},
            {"series": "MSCI Europe Return", "date": "2014-02-17", "value": -0.011},
            {"series": "MSCI Europe Return", "date": "2014-02-26", "value": -0.010},
            {"series": "MSCI Europe Return", "date": "2014-03-07", "value": -0.011},
            {"series": "MSCI Europe Return", "date": "2014-03-13", "value": -0.011},
            {"series": "MSCI Europe Return", "date": "2014-03-19", "value": -0.010},
            {"series": "MSCI Europe Return", "date": "2014-03-25", "value": -0.011},
            {"series": "MSCI Europe Return", "date": "2014-03-28", "value": -0.043},
            {"series": "MSCI Europe Return", "date": "2014-04-02", "value": -0.043},
            {"series": "MSCI Europe Return", "date": "2014-04-06", "value": -0.043},
            {"series": "MSCI Europe Return", "date": "2014-04-12", "value": -0.038},
            {"series": "MSCI Europe Return", "date": "2014-04-18", "value": -0.044},
            {"series": "MSCI Europe Return", "date": "2014-04-24", "value": -0.049},
            {"series": "MSCI Europe Return", "date": "2014-04-30", "value": -0.046},
            {"series": "MSCI Europe Return", "date": "2014-05-06", "value": -0.046},
            {"series": "MSCI Europe Return", "date": "2014-05-15", "value": -0.043},
            {"series": "MSCI Europe Return", "date": "2014-05-21", "value": -0.033},
            {"series": "MSCI Europe Return", "date": "2014-05-27", "value": -0.036},
            {"series": "MSCI Europe Return", "date": "2014-06-02", "value": -0.040},
            {"series": "MSCI Europe Return", "date": "2014-06-08", "value": -0.035},
            {"series": "MSCI Europe Return", "date": "2014-06-14", "value": -0.030},
            {"series": "MSCI Europe Return", "date": "2014-06-20", "value": -0.029},
            {"series": "MSCI Europe Return", "date": "2014-06-23", "value": -0.022},
            {"series": "MSCI Europe Return", "date": "2014-06-29", "value": -0.024},
            {"series": "MSCI Europe Return", "date": "2014-07-02", "value": -0.019},
            {"series": "MSCI Europe Return", "date": "2014-07-05", "value": -0.015},
            {"series": "MSCI Europe Return", "date": "2014-07-08", "value": -0.004},
            {"series": "MSCI Europe Return", "date": "2014-07-14", "value": -0.004},
            {"series": "MSCI Europe Return", "date": "2014-07-17", "value": -0.002},
            {"series": "MSCI Europe Return", "date": "2014-07-20", "value": 0},
            {"series": "MSCI Europe Return", "date": "2015-04-30", "value": 0},
            {"series": "MSCI Europe Return", "date": "2015-05-03", "value": 0.006},
            {"series": "MSCI Europe Return", "date": "2015-05-06", "value": 0},
            {"series": "MSCI Europe Return", "date": "2015-08-15", "value": 0},
            {"series": "MSCI Europe Return", "date": "2015-08-20", "value": 0.003},
            {"series": "MSCI Europe Return", "date": "2015-08-26", "value": 0.003},
            {"series": "MSCI Europe Return", "date": "2015-08-29", "value": 0},
            {"series": "MSCI Europe Return", "date": "2015-10-04", "value": 0},
            {"series": "MSCI Europe Return", "date": "2015-10-08", "value": 0.007},
            {"series": "MSCI Europe Return", "date": "2015-10-11", "value": 0},
            {"series": "MSCI Europe Return", "date": "2015-11-10", "value": 0},
            {"series": "MSCI Europe Return", "date": "2015-11-15", "value": 0.002},
            {"series": "MSCI Europe Return", "date": "2015-11-22", "value": 0},
            {"series": "MSCI Europe Return", "date": "2016-12-06", "value": 0},
            {"series": "MSCI Europe Return", "date": "2016-12-09", "value": -0.005},
            {"series": "MSCI Europe Return", "date": "2016-12-12", "value": -0.007},
            {"series": "MSCI Europe Return", "date": "2016-12-21", "value": -0.011},
            {"series": "MSCI Europe Return", "date": "2016-12-27", "value": -0.015},
            {"series": "MSCI Europe Return", "date": "2017-01-01", "value": -0.019},
            {"series": "MSCI Europe Return", "date": "2017-01-05", "value": -0.016},
            {"series": "MSCI Europe Return", "date": "2017-01-08", "value": -0.013},
            {"series": "MSCI Europe Return", "date": "2017-01-14", "value": -0.010},
            {"series": "MSCI Europe Return", "date": "2017-01-20", "value": -0.008},
            {"series": "MSCI Europe Return", "date": "2017-01-26", "value": -0.011},
            {"series": "MSCI Europe Return", "date": "2017-02-01", "value": -0.007},
            {"series": "MSCI Europe Return", "date": "2017-02-04", "value": -0.006},
            {"series": "MSCI Europe Return", "date": "2017-02-07", "value": -0.010},
            {"series": "MSCI Europe Return", "date": "2017-02-10", "value": -0.013},
            {"series": "MSCI Europe Return", "date": "2017-02-13", "value": -0.013},
            {"series": "MSCI Europe Return", "date": "2017-02-16", "value": -0.008},
            {"series": "MSCI Europe Return", "date": "2017-02-19", "value": -0.010},
            {"series": "MSCI Europe Return", "date": "2017-02-25", "value": -0.007},
            {"series": "MSCI Europe Return", "date": "2017-03-03", "value": -0.004},
            {"series": "MSCI Europe Return", "date": "2017-03-09", "value": -0.001},
            {"series": "MSCI Europe Return", "date": "2017-03-12", "value": 0},
            {"series": "MSCI Europe Return", "date": "2017-10-08", "value": 0},
            {"series": "MSCI Europe Return", "date": "2017-10-12", "value": 0.001},
            {"series": "MSCI Europe Return", "date": "2017-10-20", "value": 0.001},
            {"series": "MSCI Europe Return", "date": "2017-10-24", "value": 0},
            {"series": "MSCI Europe Return", "date": "2018-02-19", "value": 0},

            {"series": "Nasdaq Return", "date": "2010-10-28", "value": 0},
            {"series": "Nasdaq Return", "date": "2011-09-06", "value": 0},
            {"series": "Nasdaq Return", "date": "2011-09-12", "value": 0.009},
            {"series": "Nasdaq Return", "date": "2011-09-18", "value": 0.011},
            {"series": "Nasdaq Return", "date": "2011-09-27", "value": 0.013},
            {"series": "Nasdaq Return", "date": "2011-10-06", "value": 0.014},
            {"series": "Nasdaq Return", "date": "2011-10-15", "value": 0.014},
            {"series": "Nasdaq Return", "date": "2011-10-24", "value": 0.011},
            {"series": "Nasdaq Return", "date": "2011-11-05", "value": 0.010},
            {"series": "Nasdaq Return", "date": "2011-11-17", "value": 0.007},
            {"series": "Nasdaq Return", "date": "2011-11-23", "value": 0.006},
            {"series": "Nasdaq Return", "date": "2011-11-29", "value": 0.007},
            {"series": "Nasdaq Return", "date": "2011-12-11", "value": 0.009},
            {"series": "Nasdaq Return", "date": "2011-12-23", "value": 0.009},
            {"series": "Nasdaq Return", "date": "2012-01-05", "value": 0.011},
            {"series": "Nasdaq Return", "date": "2012-01-17", "value": 0.014},
            {"series": "Nasdaq Return", "date": "2012-01-29", "value": 0.014},
            {"series": "Nasdaq Return", "date": "2012-02-10", "value": 0.016},
            {"series": "Nasdaq Return", "date": "2012-02-22", "value": 0.018},
            {"series": "Nasdaq Return", "date": "2012-02-28", "value": 0.012},
            {"series": "Nasdaq Return", "date": "2012-03-06", "value": 0.004},
            {"series": "Nasdaq Return", "date": "2012-03-12", "value": 0.003},
            {"series": "Nasdaq Return", "date": "2012-03-18", "value": 0.004},
            {"series": "Nasdaq Return", "date": "2012-03-24", "value": 0.004},
            {"series": "Nasdaq Return", "date": "2012-04-02", "value": 0},
            {"series": "Nasdaq Return", "date": "2012-11-24", "value": 0},
            {"series": "Nasdaq Return", "date": "2012-12-03", "value": -0.002},
            {"series": "Nasdaq Return", "date": "2012-12-15", "value": -0.004},
            {"series": "Nasdaq Return", "date": "2012-12-27", "value": -0.002},
            {"series": "Nasdaq Return", "date": "2013-01-08", "value": -0.001},
            {"series": "Nasdaq Return", "date": "2013-01-17", "value": -0.002},
            {"series": "Nasdaq Return", "date": "2013-01-26", "value": -0.001},
            {"series": "Nasdaq Return", "date": "2013-02-08", "value": -0.002},
            {"series": "Nasdaq Return", "date": "2013-02-14", "value": -0.004},
            {"series": "Nasdaq Return", "date": "2013-02-23", "value": -0.005},
            {"series": "Nasdaq Return", "date": "2013-03-04", "value": -0.008},
            {"series": "Nasdaq Return", "date": "2013-03-10", "value": -0.011},
            {"series": "Nasdaq Return", "date": "2013-03-16", "value": -0.015},
            {"series": "Nasdaq Return", "date": "2013-03-25", "value": -0.016},
            {"series": "Nasdaq Return", "date": "2013-03-28", "value": -0.018},
            {"series": "Nasdaq Return", "date": "2013-04-03", "value": -0.013},
            {"series": "Nasdaq Return", "date": "2013-04-09", "value": -0.011},
            {"series": "Nasdaq Return", "date": "2013-04-21", "value": -0.011},
            {"series": "Nasdaq Return", "date": "2013-05-03", "value": -0.011},
            {"series": "Nasdaq Return", "date": "2013-05-15", "value": -0.014},
            {"series": "Nasdaq Return", "date": "2013-05-27", "value": -0.016},
            {"series": "Nasdaq Return", "date": "2013-06-05", "value": -0.020},
            {"series": "Nasdaq Return", "date": "2013-06-15", "value": -0.021},
            {"series": "Nasdaq Return", "date": "2013-06-24", "value": -0.025},
            {"series": "Nasdaq Return", "date": "2013-07-03", "value": -0.022},
            {"series": "Nasdaq Return", "date": "2013-07-12", "value": -0.023},
            {"series": "Nasdaq Return", "date": "2013-07-18", "value": -0.016},
            {"series": "Nasdaq Return", "date": "2013-07-24", "value": -0.010},
            {"series": "Nasdaq Return", "date": "2013-07-30", "value": -0.004},
            {"series": "Nasdaq Return", "date": "2013-08-05", "value": -0.001},
            {"series": "Nasdaq Return", "date": "2013-08-10", "value": 0},
            {"series": "Nasdaq Return", "date": "2013-09-30", "value": 0},
            {"series": "Nasdaq Return", "date": "2013-10-14", "value": -0.001},
            {"series": "Nasdaq Return", "date": "2013-10-31", "value": -0.002},
            {"series": "Nasdaq Return", "date": "2013-11-12", "value": -0.004},
            {"series": "Nasdaq Return", "date": "2013-11-25", "value": -0.007},
            {"series": "Nasdaq Return", "date": "2013-12-07", "value": -0.004},
            {"series": "Nasdaq Return", "date": "2013-12-19", "value": -0.001},
            {"series": "Nasdaq Return", "date": "2013-12-31", "value": 0},
            {"series": "Nasdaq Return", "date": "2014-05-06", "value": 0},
            {"series": "Nasdaq Return", "date": "2014-05-12", "value": -0.004},
            {"series": "Nasdaq Return", "date": "2014-05-24", "value": -0.005},
            {"series": "Nasdaq Return", "date": "2014-06-05", "value": -0.007},
            {"series": "Nasdaq Return", "date": "2014-06-14", "value": -0.004},
            {"series": "Nasdaq Return", "date": "2014-06-23", "value": -0.007},
            {"series": "Nasdaq Return", "date": "2014-06-29", "value": -0.007},
            {"series": "Nasdaq Return", "date": "2014-07-05", "value": -0.019},
            {"series": "Nasdaq Return", "date": "2014-07-08", "value": -0.024},
            {"series": "Nasdaq Return", "date": "2014-07-14", "value": -0.021},
            {"series": "Nasdaq Return", "date": "2014-07-17", "value": -0.025},
            {"series": "Nasdaq Return", "date": "2014-07-20", "value": -0.008},
            {"series": "Nasdaq Return", "date": "2014-07-23", "value": -0.010},
            {"series": "Nasdaq Return", "date": "2014-07-29", "value": -0.012},
            {"series": "Nasdaq Return", "date": "2014-08-04", "value": -0.013},
            {"series": "Nasdaq Return", "date": "2014-08-10", "value": -0.011},
            {"series": "Nasdaq Return", "date": "2014-08-16", "value": -0.009},
            {"series": "Nasdaq Return", "date": "2014-08-22", "value": -0.011},
            {"series": "Nasdaq Return", "date": "2014-08-28", "value": -0.008},
            {"series": "Nasdaq Return", "date": "2014-09-03", "value": -0.009},
            {"series": "Nasdaq Return", "date": "2014-09-09", "value": -0.009},
            {"series": "Nasdaq Return", "date": "2014-09-15", "value": -0.009},
            {"series": "Nasdaq Return", "date": "2014-09-21", "value": -0.007},
            {"series": "Nasdaq Return", "date": "2014-09-27", "value": -0.010},
            {"series": "Nasdaq Return", "date": "2014-09-30", "value": -0.008},
            {"series": "Nasdaq Return", "date": "2014-10-07", "value": -0.013},
            {"series": "Nasdaq Return", "date": "2014-10-13", "value": -0.007},
            {"series": "Nasdaq Return", "date": "2014-10-16", "value": -0.004},
            {"series": "Nasdaq Return", "date": "2014-10-19", "value": 0},
            {"series": "Nasdaq Return", "date": "2015-04-15", "value": 0},
            {"series": "Nasdaq Return", "date": "2015-04-21", "value": 0.004},
            {"series": "Nasdaq Return", "date": "2015-04-30", "value": 0.005},
            {"series": "Nasdaq Return", "date": "2015-05-04", "value": 0},
            {"series": "Nasdaq Return", "date": "2015-07-10", "value": 0},
            {"series": "Nasdaq Return", "date": "2015-07-13", "value": 0.003},
            {"series": "Nasdaq Return", "date": "2015-07-17", "value": 0},
            {"series": "Nasdaq Return", "date": "2017-09-24", "value": 0},
            {"series": "Nasdaq Return", "date": "2017-09-30", "value": 0.009},
            {"series": "Nasdaq Return", "date": "2017-10-06", "value": 0.014},
            {"series": "Nasdaq Return", "date": "2017-10-12", "value": 0.020},
            {"series": "Nasdaq Return", "date": "2017-10-18", "value": 0.028},
            {"series": "Nasdaq Return", "date": "2017-10-21", "value": 0.032},
            {"series": "Nasdaq Return", "date": "2017-10-24", "value": 0.043},
            {"series": "Nasdaq Return", "date": "2017-10-27", "value": 0.055},
            {"series": "Nasdaq Return", "date": "2017-10-30", "value": 0.039},
            {"series": "Nasdaq Return", "date": "2017-11-02", "value": 0.034},
            {"series": "Nasdaq Return", "date": "2017-11-05", "value": 0.042},
            {"series": "Nasdaq Return", "date": "2017-11-11", "value": 0.042},
            {"series": "Nasdaq Return", "date": "2017-11-16", "value": 0.040},
            {"series": "Nasdaq Return", "date": "2017-11-19", "value": 0.045},
            {"series": "Nasdaq Return", "date": "2017-11-23", "value": 0.036},
            {"series": "Nasdaq Return", "date": "2017-11-27", "value": 0.032},
            {"series": "Nasdaq Return", "date": "2017-11-30", "value": 0.025},
            {"series": "Nasdaq Return", "date": "2017-12-04", "value": 0.024},
            {"series": "Nasdaq Return", "date": "2017-12-07", "value": 0.017},
            {"series": "Nasdaq Return", "date": "2017-12-10", "value": 0.009},
            {"series": "Nasdaq Return", "date": "2017-12-13", "value": 0.006},
            {"series": "Nasdaq Return", "date": "2017-12-16", "value": 0.003},
            {"series": "Nasdaq Return", "date": "2017-12-19", "value": 0},
            {"series": "Nasdaq Return", "date": "2018-02-19", "value": 0},

            {"series": "US Equity EPU", "date": "2010-10-28", "value": 0},
            {"series": "US Equity EPU", "date": "2011-04-27", "value": 0},
            {"series": "US Equity EPU", "date": "2011-04-28", "value": -0.007},
            {"series": "US Equity EPU", "date": "2011-04-30", "value": -0.041},
            {"series": "US Equity EPU", "date": "2011-05-02", "value": -0.035},
            {"series": "US Equity EPU", "date": "2011-05-03", "value": -0.004},
            {"series": "US Equity EPU", "date": "2011-05-05", "value": 0},
            {"series": "US Equity EPU", "date": "2011-11-05", "value": 0},
            {"series": "US Equity EPU", "date": "2011-11-08", "value": 0.006},
            {"series": "US Equity EPU", "date": "2011-11-11", "value": 0.059},
            {"series": "US Equity EPU", "date": "2011-11-13", "value": 0.084},
            {"series": "US Equity EPU", "date": "2011-11-15", "value": 0.056},
            {"series": "US Equity EPU", "date": "2011-11-17", "value": 0.034},
            {"series": "US Equity EPU", "date": "2011-11-20", "value": 0.015},
            {"series": "US Equity EPU", "date": "2011-11-23", "value": 0.007},
            {"series": "US Equity EPU", "date": "2011-11-29", "value": 0.004},
            {"series": "US Equity EPU", "date": "2011-12-05", "value": 0.003},
            {"series": "US Equity EPU", "date": "2011-12-10", "value": 0.020},
            {"series": "US Equity EPU", "date": "2011-12-13", "value": 0.036},
            {"series": "US Equity EPU", "date": "2011-12-15", "value": 0.015},
            {"series": "US Equity EPU", "date": "2011-12-17", "value": 0.004},
            {"series": "US Equity EPU", "date": "2011-12-23", "value": 0.009},
            {"series": "US Equity EPU", "date": "2011-12-29", "value": 0.010},
            {"series": "US Equity EPU", "date": "2012-01-05", "value": 0.010},
            {"series": "US Equity EPU", "date": "2012-01-11", "value": 0.003},
            {"series": "US Equity EPU", "date": "2012-01-17", "value": 0.009},
            {"series": "US Equity EPU", "date": "2012-01-23", "value": 0.001},
            {"series": "US Equity EPU", "date": "2012-01-29", "value": 0.003},
            {"series": "US Equity EPU", "date": "2012-02-04", "value": 0.001},
            {"series": "US Equity EPU", "date": "2012-02-10", "value": 0.006},
            {"series": "US Equity EPU", "date": "2012-02-16", "value": 0.009},
            {"series": "US Equity EPU", "date": "2012-02-22", "value": 0.005},
            {"series": "US Equity EPU", "date": "2012-02-28", "value": 0},
            {"series": "US Equity EPU", "date": "2012-07-26", "value": 0},
            {"series": "US Equity EPU", "date": "2012-07-29", "value": 0.012},
            {"series": "US Equity EPU", "date": "2012-08-01", "value": 0.029},
            {"series": "US Equity EPU", "date": "2012-08-04", "value": 0.025},
            {"series": "US Equity EPU", "date": "2012-08-07", "value": 0.021},
            {"series": "US Equity EPU", "date": "2012-08-10", "value": 0.018},
            {"series": "US Equity EPU", "date": "2012-08-16", "value": 0.012},
            {"series": "US Equity EPU", "date": "2012-08-22", "value": 0.011},
            {"series": "US Equity EPU", "date": "2012-08-28", "value": 0.009},
            {"series": "US Equity EPU", "date": "2012-09-03", "value": 0.007},
            {"series": "US Equity EPU", "date": "2012-09-09", "value": 0.011},
            {"series": "US Equity EPU", "date": "2012-09-15", "value": 0.014},
            {"series": "US Equity EPU", "date": "2012-09-21", "value": 0.007},
            {"series": "US Equity EPU", "date": "2012-09-27", "value": 0.015},
            {"series": "US Equity EPU", "date": "2012-09-30", "value": 0.028},
            {"series": "US Equity EPU", "date": "2012-10-03", "value": 0.036},
            {"series": "US Equity EPU", "date": "2012-10-06", "value": 0.023},
            {"series": "US Equity EPU", "date": "2012-10-09", "value": 0.020},
            {"series": "US Equity EPU", "date": "2012-10-15", "value": 0.015},
            {"series": "US Equity EPU", "date": "2012-10-21", "value": 0.014},
            {"series": "US Equity EPU", "date": "2012-10-27", "value": 0.012},
            {"series": "US Equity EPU", "date": "2012-11-02", "value": 0.009},
            {"series": "US Equity EPU", "date": "2012-11-08", "value": 0.012},
            {"series": "US Equity EPU", "date": "2012-11-14", "value": 0.009},
            {"series": "US Equity EPU", "date": "2012-11-20", "value": 0.014},
            {"series": "US Equity EPU", "date": "2012-11-26", "value": 0.009},
            {"series": "US Equity EPU", "date": "2012-12-02", "value": 0.004},
            {"series": "US Equity EPU", "date": "2012-12-08", "value": 0.006},
            {"series": "US Equity EPU", "date": "2012-12-14", "value": 0.012},
            {"series": "US Equity EPU", "date": "2012-12-20", "value": 0.014},
            {"series": "US Equity EPU", "date": "2012-12-23", "value": 0.004},
            {"series": "US Equity EPU", "date": "2012-12-26", "value": 0},
            {"series": "US Equity EPU", "date": "2013-03-10", "value": 0},
            {"series": "US Equity EPU", "date": "2013-03-16", "value": 0.006},
            {"series": "US Equity EPU", "date": "2013-03-22", "value": 0.009},
            {"series": "US Equity EPU", "date": "2013-03-28", "value": 0.010},
            {"series": "US Equity EPU", "date": "2013-04-03", "value": 0.014},
            {"series": "US Equity EPU", "date": "2013-04-09", "value": 0.021},
            {"series": "US Equity EPU", "date": "2013-04-12", "value": 0.040},
            {"series": "US Equity EPU", "date": "2013-04-15", "value": 0.053},
            {"series": "US Equity EPU", "date": "2013-04-21", "value": 0.058},
            {"series": "US Equity EPU", "date": "2013-04-27", "value": 0.059},
            {"series": "US Equity EPU", "date": "2013-05-03", "value": 0.064},
            {"series": "US Equity EPU", "date": "2013-05-09", "value": 0.068},
            {"series": "US Equity EPU", "date": "2013-05-15", "value": 0.071},
            {"series": "US Equity EPU", "date": "2013-05-21", "value": 0.075},
            {"series": "US Equity EPU", "date": "2013-05-27", "value": 0.081},
            {"series": "US Equity EPU", "date": "2013-06-01", "value": 0.088},
            {"series": "US Equity EPU", "date": "2013-06-05", "value": 0.083},
            {"series": "US Equity EPU", "date": "2013-06-08", "value": 0.078},
            {"series": "US Equity EPU", "date": "2013-06-15", "value": 0.072},
            {"series": "US Equity EPU", "date": "2013-06-21", "value": 0.066},
            {"series": "US Equity EPU", "date": "2013-06-25", "value": 0.062},
            {"series": "US Equity EPU", "date": "2013-06-27", "value": 0.056},
            {"series": "US Equity EPU", "date": "2013-06-29", "value": 0.046},
            {"series": "US Equity EPU", "date": "2013-07-01", "value": 0.028},
            {"series": "US Equity EPU", "date": "2013-07-04", "value": 0.015},
            {"series": "US Equity EPU", "date": "2013-07-08", "value": 0.012},
            {"series": "US Equity EPU", "date": "2013-07-14", "value": 0.015},
            {"series": "US Equity EPU", "date": "2013-07-20", "value": 0.018},
            {"series": "US Equity EPU", "date": "2013-07-26", "value": 0.012},
            {"series": "US Equity EPU", "date": "2013-08-01", "value": 0.003},
            {"series": "US Equity EPU", "date": "2013-08-07", "value": 0},
            {"series": "US Equity EPU", "date": "2013-09-07", "value": 0},
            {"series": "US Equity EPU", "date": "2013-09-10", "value": 0.015},
            {"series": "US Equity EPU", "date": "2013-09-16", "value": 0.017},
            {"series": "US Equity EPU", "date": "2013-09-22", "value": 0.012},
            {"series": "US Equity EPU", "date": "2013-09-28", "value": 0.015},
            {"series": "US Equity EPU", "date": "2013-10-04", "value": 0.020},
            {"series": "US Equity EPU", "date": "2013-10-10", "value": 0.012},
            {"series": "US Equity EPU", "date": "2013-10-16", "value": 0.006},
            {"series": "US Equity EPU", "date": "2013-10-22", "value": 0.004},
            {"series": "US Equity EPU", "date": "2013-10-28", "value": 0.005},
            {"series": "US Equity EPU", "date": "2013-11-06", "value": 0.006},
            {"series": "US Equity EPU", "date": "2013-11-12", "value": 0.007},
            {"series": "US Equity EPU", "date": "2013-11-21", "value": 0.003},
            {"series": "US Equity EPU", "date": "2013-11-30", "value": 0},
            {"series": "US Equity EPU", "date": "2013-12-18", "value": 0.006},
            {"series": "US Equity EPU", "date": "2013-12-24", "value": 0.009},
            {"series": "US Equity EPU", "date": "2013-12-30", "value": 0.007},
            {"series": "US Equity EPU", "date": "2014-01-05", "value": 0.001},
            {"series": "US Equity EPU", "date": "2014-01-11", "value": 0},
            {"series": "US Equity EPU", "date": "2014-01-20", "value": 0},
            {"series": "US Equity EPU", "date": "2014-01-23", "value": 0.032},
            {"series": "US Equity EPU", "date": "2014-01-26", "value": 0.031},
            {"series": "US Equity EPU", "date": "2014-02-01", "value": 0.028},
            {"series": "US Equity EPU", "date": "2014-02-07", "value": 0.021},
            {"series": "US Equity EPU", "date": "2014-02-13", "value": 0.014},
            {"series": "US Equity EPU", "date": "2014-02-19", "value": 0.023},
            {"series": "US Equity EPU", "date": "2014-02-25", "value": 0.032},
            {"series": "US Equity EPU", "date": "2014-02-28", "value": 0.043},
            {"series": "US Equity EPU", "date": "2014-03-03", "value": 0.050},
            {"series": "US Equity EPU", "date": "2014-03-06", "value": 0.039},
            {"series": "US Equity EPU", "date": "2014-03-12", "value": 0.032},
            {"series": "US Equity EPU", "date": "2014-03-18", "value": 0.028},
            {"series": "US Equity EPU", "date": "2014-03-24", "value": 0.046},
            {"series": "US Equity EPU", "date": "2014-03-26", "value": 0.091},
            {"series": "US Equity EPU", "date": "2014-03-28", "value": 0},
            {"series": "US Equity EPU", "date": "2014-06-11", "value": 0},
            {"series": "US Equity EPU", "date": "2014-06-14", "value": 0.006},
            {"series": "US Equity EPU", "date": "2014-06-20", "value": 0.009},
            {"series": "US Equity EPU", "date": "2014-06-26", "value": 0.018},
            {"series": "US Equity EPU", "date": "2014-06-29", "value": 0.036},
            {"series": "US Equity EPU", "date": "2014-07-02", "value": 0.020},
            {"series": "US Equity EPU", "date": "2014-07-05", "value": 0.012},
            {"series": "US Equity EPU", "date": "2014-07-11", "value": 0},
            {"series": "US Equity EPU", "date": "2014-07-20", "value": 0.010},
            {"series": "US Equity EPU", "date": "2014-07-23", "value": 0.022},
            {"series": "US Equity EPU", "date": "2014-07-26", "value": 0.012},
            {"series": "US Equity EPU", "date": "2014-07-29", "value": 0.006},
            {"series": "US Equity EPU", "date": "2014-08-04", "value": 0},
            {"series": "US Equity EPU", "date": "2014-08-13", "value": 0.018},
            {"series": "US Equity EPU", "date": "2014-08-19", "value": 0.028},
            {"series": "US Equity EPU", "date": "2014-08-25", "value": 0.031},
            {"series": "US Equity EPU", "date": "2014-08-31", "value": 0.048},
            {"series": "US Equity EPU", "date": "2014-09-03", "value": 0.039},
            {"series": "US Equity EPU", "date": "2014-09-06", "value": 0.028},
            {"series": "US Equity EPU", "date": "2014-09-09", "value": 0.003},
            {"series": "US Equity EPU", "date": "2014-09-15", "value": 0},
            {"series": "US Equity EPU", "date": "2014-09-24", "value": 0.012},
            {"series": "US Equity EPU", "date": "2014-09-30", "value": 0.021},
            {"series": "US Equity EPU", "date": "2014-10-04", "value": 0.031},
            {"series": "US Equity EPU", "date": "2014-10-10", "value": 0.043},
            {"series": "US Equity EPU", "date": "2014-10-13", "value": 0.054},
            {"series": "US Equity EPU", "date": "2014-10-16", "value": 0.043},
            {"series": "US Equity EPU", "date": "2014-10-19", "value": 0.034},
            {"series": "US Equity EPU", "date": "2014-10-22", "value": 0.015},
            {"series": "US Equity EPU", "date": "2014-10-28", "value": 0.017},
            {"series": "US Equity EPU", "date": "2014-10-31", "value": 0.012},
            {"series": "US Equity EPU", "date": "2014-11-03", "value": 0.004},
            {"series": "US Equity EPU", "date": "2014-11-09", "value": 0.001},
            {"series": "US Equity EPU", "date": "2014-11-15", "value": 0},
            {"series": "US Equity EPU", "date": "2015-05-13", "value": 0},
            {"series": "US Equity EPU", "date": "2015-05-14", "value": -0.011},
            {"series": "US Equity EPU", "date": "2015-05-15", "value": -0.027},
            {"series": "US Equity EPU", "date": "2015-05-16", "value": -0.004},
            {"series": "US Equity EPU", "date": "2015-05-18", "value": 0},
            {"series": "US Equity EPU", "date": "2015-12-05", "value": 0},
            {"series": "US Equity EPU", "date": "2015-12-11", "value": -0.007},
            {"series": "US Equity EPU", "date": "2015-12-14", "value": -0.016},
            {"series": "US Equity EPU", "date": "2015-12-17", "value": -0.013},
            {"series": "US Equity EPU", "date": "2015-12-23", "value": -0.008},
            {"series": "US Equity EPU", "date": "2015-12-29", "value": -0.011},
            {"series": "US Equity EPU", "date": "2016-01-04", "value": -0.015},
            {"series": "US Equity EPU", "date": "2016-01-10", "value": -0.016},
            {"series": "US Equity EPU", "date": "2016-01-16", "value": -0.019},
            {"series": "US Equity EPU", "date": "2016-01-22", "value": -0.022},
            {"series": "US Equity EPU", "date": "2016-01-28", "value": -0.019},
            {"series": "US Equity EPU", "date": "2016-02-03", "value": -0.024},
            {"series": "US Equity EPU", "date": "2016-02-06", "value": -0.021},
            {"series": "US Equity EPU", "date": "2016-02-09", "value": -0.026},
            {"series": "US Equity EPU", "date": "2016-02-12", "value": -0.041},
            {"series": "US Equity EPU", "date": "2016-02-14", "value": -0.051},
            {"series": "US Equity EPU", "date": "2016-02-16", "value": -0.063},
            {"series": "US Equity EPU", "date": "2016-02-18", "value": -0.068},
            {"series": "US Equity EPU", "date": "2016-02-21", "value": -0.065},
            {"series": "US Equity EPU", "date": "2016-02-24", "value": -0.056},
            {"series": "US Equity EPU", "date": "2016-02-27", "value": -0.056},
            {"series": "US Equity EPU", "date": "2016-03-02", "value": -0.048},
            {"series": "US Equity EPU", "date": "2016-03-05", "value": -0.048},
            {"series": "US Equity EPU", "date": "2016-03-08", "value": -0.045},
            {"series": "US Equity EPU", "date": "2016-03-11", "value": -0.035},
            {"series": "US Equity EPU", "date": "2016-03-14", "value": -0.026},
            {"series": "US Equity EPU", "date": "2016-03-16", "value": -0.016},
            {"series": "US Equity EPU", "date": "2016-03-18", "value": -0.007},
            {"series": "US Equity EPU", "date": "2016-03-20", "value": 0},
            {"series": "US Equity EPU", "date": "2017-03-15", "value": 0},
            {"series": "US Equity EPU", "date": "2017-03-21", "value": 0.001},
            {"series": "US Equity EPU", "date": "2017-03-27", "value": 0.004},
            {"series": "US Equity EPU", "date": "2017-04-02", "value": 0.009},
            {"series": "US Equity EPU", "date": "2017-04-05", "value": 0.012},
            {"series": "US Equity EPU", "date": "2017-04-08", "value": 0.006},
            {"series": "US Equity EPU", "date": "2017-04-11", "value": 0},
            {"series": "US Equity EPU", "date": "2018-01-16", "value": 0},
            {"series": "US Equity EPU", "date": "2018-01-19", "value": 0.006},
            {"series": "US Equity EPU", "date": "2018-01-23", "value": 0.007},
            {"series": "US Equity EPU", "date": "2018-01-29", "value": 0.014},
            {"series": "US Equity EPU", "date": "2018-02-04", "value": 0.012},
            {"series": "US Equity EPU", "date": "2018-02-09", "value": 0.006},
            {"series": "US Equity EPU", "date": "2018-02-11", "value": 0},
            {"series": "US Equity EPU", "date": "2018-02-19", "value": 0},

            {"series": "USD/EUR Return", "date": "2010-10-28", "value": 0},
            {"series": "USD/EUR Return", "date": "2011-02-07", "value": 0},
            {"series": "USD/EUR Return", "date": "2011-02-10", "value": 0.003},
            {"series": "USD/EUR Return", "date": "2011-02-13", "value": 0.011},
            {"series": "USD/EUR Return", "date": "2011-02-16", "value": 0.021},
            {"series": "USD/EUR Return", "date": "2011-02-19", "value": 0.025},
            {"series": "USD/EUR Return", "date": "2011-02-22", "value": 0.031},
            {"series": "USD/EUR Return", "date": "2011-02-25", "value": 0.027},
            {"series": "USD/EUR Return", "date": "2011-03-01", "value": 0.040},
            {"series": "USD/EUR Return", "date": "2011-03-04", "value": 0.035},
            {"series": "USD/EUR Return", "date": "2011-03-07", "value": 0.027},
            {"series": "USD/EUR Return", "date": "2011-03-10", "value": 0.021},
            {"series": "USD/EUR Return", "date": "2011-03-13", "value": 0.015},
            {"series": "USD/EUR Return", "date": "2011-03-16", "value": 0.006},
            {"series": "USD/EUR Return", "date": "2011-03-19", "value": 0},
            {"series": "USD/EUR Return", "date": "2011-05-30", "value": 0},
            {"series": "USD/EUR Return", "date": "2011-06-01", "value": 0.023},
            {"series": "USD/EUR Return", "date": "2011-06-03", "value": 0.012},
            {"series": "USD/EUR Return", "date": "2011-06-05", "value": 0.018},
            {"series": "USD/EUR Return", "date": "2011-06-08", "value": 0.003},
            {"series": "USD/EUR Return", "date": "2011-06-11", "value": 0.009},
            {"series": "USD/EUR Return", "date": "2011-06-14", "value": 0.012},
            {"series": "USD/EUR Return", "date": "2011-06-17", "value": 0.017},
            {"series": "USD/EUR Return", "date": "2011-06-20", "value": 0.014},
            {"series": "USD/EUR Return", "date": "2011-06-23", "value": 0.015},
            {"series": "USD/EUR Return", "date": "2011-06-26", "value": 0.012},
            {"series": "USD/EUR Return", "date": "2011-06-29", "value": 0.006},
            {"series": "USD/EUR Return", "date": "2011-07-02", "value": 0.009},
            {"series": "USD/EUR Return", "date": "2011-07-05", "value": 0.012},
            {"series": "USD/EUR Return", "date": "2011-07-09", "value": 0.015},
            {"series": "USD/EUR Return", "date": "2011-07-13", "value": 0.022},
            {"series": "USD/EUR Return", "date": "2011-07-16", "value": 0.029},
            {"series": "USD/EUR Return", "date": "2011-07-19", "value": 0.035},
            {"series": "USD/EUR Return", "date": "2011-07-23", "value": 0.034},
            {"series": "USD/EUR Return", "date": "2011-07-27", "value": 0.043},
            {"series": "USD/EUR Return", "date": "2011-08-01", "value": 0.053},
            {"series": "USD/EUR Return", "date": "2011-08-04", "value": 0.050},
            {"series": "USD/EUR Return", "date": "2011-08-07", "value": 0.040},
            {"series": "USD/EUR Return", "date": "2011-08-13", "value": 0.039},
            {"series": "USD/EUR Return", "date": "2011-08-19", "value": 0.034},
            {"series": "USD/EUR Return", "date": "2011-08-22", "value": 0.031},
            {"series": "USD/EUR Return", "date": "2011-08-25", "value": 0.036},
            {"series": "USD/EUR Return", "date": "2011-08-28", "value": 0.025},
            {"series": "USD/EUR Return", "date": "2011-08-31", "value": 0.028},
            {"series": "USD/EUR Return", "date": "2011-09-06", "value": 0.031},
            {"series": "USD/EUR Return", "date": "2011-09-09", "value": 0.020},
            {"series": "USD/EUR Return", "date": "2011-09-11", "value": 0},
            {"series": "USD/EUR Return", "date": "2011-11-08", "value": 0},
            {"series": "USD/EUR Return", "date": "2011-11-10", "value": 0.028},
            {"series": "USD/EUR Return", "date": "2011-11-13", "value": 0.040},
            {"series": "USD/EUR Return", "date": "2011-11-15", "value": 0.047},
            {"series": "USD/EUR Return", "date": "2011-11-17", "value": 0.043},
            {"series": "USD/EUR Return", "date": "2011-11-20", "value": 0.037},
            {"series": "USD/EUR Return", "date": "2011-11-23", "value": 0.028},
            {"series": "USD/EUR Return", "date": "2011-11-26", "value": 0.023},
            {"series": "USD/EUR Return", "date": "2011-11-29", "value": 0.020},
            {"series": "USD/EUR Return", "date": "2011-12-02", "value": 0.018},
            {"series": "USD/EUR Return", "date": "2011-12-05", "value": 0.012},
            {"series": "USD/EUR Return", "date": "2011-12-08", "value": 0.006},
            {"series": "USD/EUR Return", "date": "2011-12-11", "value": 0},
            {"series": "USD/EUR Return", "date": "2012-01-08", "value": 0},
            {"series": "USD/EUR Return", "date": "2012-01-12", "value": 0.006},
            {"series": "USD/EUR Return", "date": "2012-01-16", "value": 0},
            {"series": "USD/EUR Return", "date": "2012-04-11", "value": 0},
            {"series": "USD/EUR Return", "date": "2012-04-14", "value": 0.022},
            {"series": "USD/EUR Return", "date": "2012-04-17", "value": 0.031},
            {"series": "USD/EUR Return", "date": "2012-04-20", "value": 0.043},
            {"series": "USD/EUR Return", "date": "2012-04-23", "value": 0.034},
            {"series": "USD/EUR Return", "date": "2012-04-26", "value": 0.028},
            {"series": "USD/EUR Return", "date": "2012-04-29", "value": 0.037},
            {"series": "USD/EUR Return", "date": "2012-05-02", "value": 0.048},
            {"series": "USD/EUR Return", "date": "2012-05-04", "value": 0.056},
            {"series": "USD/EUR Return", "date": "2012-05-06", "value": 0.069},
            {"series": "USD/EUR Return", "date": "2012-05-08", "value": 0.072},
            {"series": "USD/EUR Return", "date": "2012-05-10", "value": 0.059},
            {"series": "USD/EUR Return", "date": "2012-05-11", "value": 0.012},
            {"series": "USD/EUR Return", "date": "2012-05-14", "value": 0.006},
            {"series": "USD/EUR Return", "date": "2012-05-16", "value": 0},
            {"series": "USD/EUR Return", "date": "2012-12-12", "value": 0},
            {"series": "USD/EUR Return", "date": "2012-12-15", "value": -0.004},
            {"series": "USD/EUR Return", "date": "2012-12-18", "value": -0.010},
            {"series": "USD/EUR Return", "date": "2012-12-21", "value": -0.013},
            {"series": "USD/EUR Return", "date": "2012-12-24", "value": -0.015},
            {"series": "USD/EUR Return", "date": "2012-12-27", "value": -0.024},
            {"series": "USD/EUR Return", "date": "2013-01-02", "value": -0.022},
            {"series": "USD/EUR Return", "date": "2013-01-08", "value": -0.027},
            {"series": "USD/EUR Return", "date": "2013-01-14", "value": -0.029},
            {"series": "USD/EUR Return", "date": "2013-01-20", "value": -0.026},
            {"series": "USD/EUR Return", "date": "2013-01-26", "value": -0.022},
            {"series": "USD/EUR Return", "date": "2013-02-01", "value": -0.026},
            {"series": "USD/EUR Return", "date": "2013-02-07", "value": -0.029},
            {"series": "USD/EUR Return", "date": "2013-02-13", "value": -0.034},
            {"series": "USD/EUR Return", "date": "2013-02-19", "value": -0.035},
            {"series": "USD/EUR Return", "date": "2013-02-25", "value": -0.038},
            {"series": "USD/EUR Return", "date": "2013-03-04", "value": -0.038},
            {"series": "USD/EUR Return", "date": "2013-03-10", "value": -0.041},
            {"series": "USD/EUR Return", "date": "2013-03-16", "value": -0.043},
            {"series": "USD/EUR Return", "date": "2013-03-19", "value": -0.035},
            {"series": "USD/EUR Return", "date": "2013-03-22", "value": -0.019},
            {"series": "USD/EUR Return", "date": "2013-03-25", "value": -0.004},
            {"series": "USD/EUR Return", "date": "2013-03-27", "value": 0},
            {"series": "USD/EUR Return", "date": "2013-10-19", "value": 0},
            {"series": "USD/EUR Return", "date": "2013-10-21", "value": -0.015},
            {"series": "USD/EUR Return", "date": "2013-10-24", "value": -0.016},
            {"series": "USD/EUR Return", "date": "2013-10-28", "value": -0.022},
            {"series": "USD/EUR Return", "date": "2013-11-01", "value": -0.018},
            {"series": "USD/EUR Return", "date": "2013-11-05", "value": -0.024},
            {"series": "USD/EUR Return", "date": "2013-11-09", "value": -0.019},
            {"series": "USD/EUR Return", "date": "2013-11-12", "value": -0.016},
            {"series": "USD/EUR Return", "date": "2013-11-17", "value": -0.022},
            {"series": "USD/EUR Return", "date": "2013-11-21", "value": -0.030},
            {"series": "USD/EUR Return", "date": "2013-11-26", "value": -0.037},
            {"series": "USD/EUR Return", "date": "2013-12-01", "value": -0.035},
            {"series": "USD/EUR Return", "date": "2013-12-07", "value": -0.033},
            {"series": "USD/EUR Return", "date": "2013-12-12", "value": -0.026},
            {"series": "USD/EUR Return", "date": "2013-12-14", "value": -0.018},
            {"series": "USD/EUR Return", "date": "2013-12-17", "value": -0.007},
            {"series": "USD/EUR Return", "date": "2013-12-22", "value": -0.004},
            {"series": "USD/EUR Return", "date": "2013-12-28", "value": -0.008},
            {"series": "USD/EUR Return", "date": "2014-01-03", "value": -0.005},
            {"series": "USD/EUR Return", "date": "2014-01-08", "value": -0.002},
            {"series": "USD/EUR Return", "date": "2014-01-14", "value": -0.007},
            {"series": "USD/EUR Return", "date": "2014-01-20", "value": -0.008},
            {"series": "USD/EUR Return", "date": "2014-01-26", "value": -0.010},
            {"series": "USD/EUR Return", "date": "2014-02-01", "value": -0.016},
            {"series": "USD/EUR Return", "date": "2014-02-04", "value": -0.011},
            {"series": "USD/EUR Return", "date": "2014-02-07", "value": -0.029},
            {"series": "USD/EUR Return", "date": "2014-02-10", "value": -0.033},
            {"series": "USD/EUR Return", "date": "2014-02-13", "value": -0.019},
            {"series": "USD/EUR Return", "date": "2014-02-16", "value": -0.021},
            {"series": "USD/EUR Return", "date": "2014-02-22", "value": -0.016},
            {"series": "USD/EUR Return", "date": "2014-02-25", "value": -0.024},
            {"series": "USD/EUR Return", "date": "2014-02-28", "value": -0.041},
            {"series": "USD/EUR Return", "date": "2014-03-03", "value": -0.047},
            {"series": "USD/EUR Return", "date": "2014-03-06", "value": -0.066},
            {"series": "USD/EUR Return", "date": "2014-03-09", "value": -0.081},
            {"series": "USD/EUR Return", "date": "2014-03-12", "value": -0.074},
            {"series": "USD/EUR Return", "date": "2014-03-15", "value": -0.058},
            {"series": "USD/EUR Return", "date": "2014-03-18", "value": -0.050},
            {"series": "USD/EUR Return", "date": "2014-03-21", "value": -0.044},
            {"series": "USD/EUR Return", "date": "2014-03-24", "value": -0.043},
            {"series": "USD/EUR Return", "date": "2014-03-26", "value": 0},
            {"series": "USD/EUR Return", "date": "2014-03-30", "value": -0.007},
            {"series": "USD/EUR Return", "date": "2014-04-05", "value": -0.004},
            {"series": "USD/EUR Return", "date": "2014-04-11", "value": -0.002},
            {"series": "USD/EUR Return", "date": "2014-04-17", "value": -0.016},
            {"series": "USD/EUR Return", "date": "2014-04-23", "value": -0.008},
            {"series": "USD/EUR Return", "date": "2014-04-30", "value": -0.004},
            {"series": "USD/EUR Return", "date": "2014-05-06", "value": -0.007},
            {"series": "USD/EUR Return", "date": "2014-05-12", "value": -0.010},
            {"series": "USD/EUR Return", "date": "2014-05-18", "value": -0.005},
            {"series": "USD/EUR Return", "date": "2014-05-24", "value": -0.002},
            {"series": "USD/EUR Return", "date": "2014-05-27", "value": -0.011},
            {"series": "USD/EUR Return", "date": "2014-05-30", "value": -0.033},
            {"series": "USD/EUR Return", "date": "2014-06-02", "value": -0.022},
            {"series": "USD/EUR Return", "date": "2014-06-05", "value": -0.011},
            {"series": "USD/EUR Return", "date": "2014-06-08", "value": 0},
            {"series": "USD/EUR Return", "date": "2014-08-08", "value": 0},
            {"series": "USD/EUR Return", "date": "2014-08-11", "value": 0.006},
            {"series": "USD/EUR Return", "date": "2014-08-14", "value": 0},
            {"series": "USD/EUR Return", "date": "2015-02-24", "value": 0},
            {"series": "USD/EUR Return", "date": "2015-02-27", "value": -0.005},
            {"series": "USD/EUR Return", "date": "2015-03-02", "value": 0},
            {"series": "USD/EUR Return", "date": "2015-10-19", "value": 0},
            {"series": "USD/EUR Return", "date": "2015-10-22", "value": -0.004},
            {"series": "USD/EUR Return", "date": "2015-10-24", "value": -0.008},
            {"series": "USD/EUR Return", "date": "2015-10-27", "value": 0},
            {"series": "USD/EUR Return", "date": "2015-11-11", "value": 0},
            {"series": "USD/EUR Return", "date": "2015-11-14", "value": -0.004},
            {"series": "USD/EUR Return", "date": "2015-11-17", "value": -0.007},
            {"series": "USD/EUR Return", "date": "2015-11-20", "value": -0.005},
            {"series": "USD/EUR Return", "date": "2015-11-23", "value": -0.019},
            {"series": "USD/EUR Return", "date": "2015-11-26", "value": -0.032},
            {"series": "USD/EUR Return", "date": "2015-11-28", "value": -0.041},
            {"series": "USD/EUR Return", "date": "2015-11-30", "value": -0.029},
            {"series": "USD/EUR Return", "date": "2015-12-02", "value": -0.016},
            {"series": "USD/EUR Return", "date": "2015-12-05", "value": -0.005},
            {"series": "USD/EUR Return", "date": "2015-12-08", "value": -0.008},
            {"series": "USD/EUR Return", "date": "2015-12-11", "value": -0.008},
            {"series": "USD/EUR Return", "date": "2015-12-17", "value": -0.010},
            {"series": "USD/EUR Return", "date": "2015-12-23", "value": -0.013},
            {"series": "USD/EUR Return", "date": "2015-12-29", "value": -0.016},
            {"series": "USD/EUR Return", "date": "2016-01-04", "value": -0.019},
            {"series": "USD/EUR Return", "date": "2016-01-10", "value": -0.021},
            {"series": "USD/EUR Return", "date": "2016-01-16", "value": -0.021},
            {"series": "USD/EUR Return", "date": "2016-01-22", "value": -0.019},
            {"series": "USD/EUR Return", "date": "2016-01-28", "value": -0.016},
            {"series": "USD/EUR Return", "date": "2016-02-03", "value": -0.011},
            {"series": "USD/EUR Return", "date": "2016-02-06", "value": -0.008},
            {"series": "USD/EUR Return", "date": "2016-02-09", "value": -0.016},
            {"series": "USD/EUR Return", "date": "2016-02-12", "value": -0.007},
            {"series": "USD/EUR Return", "date": "2016-02-15", "value": -0.027},
            {"series": "USD/EUR Return", "date": "2016-02-18", "value": -0.019},
            {"series": "USD/EUR Return", "date": "2016-02-21", "value": -0.004},
            {"series": "USD/EUR Return", "date": "2016-02-24", "value": -0.002},
            {"series": "USD/EUR Return", "date": "2016-03-02", "value": -0.004},
            {"series": "USD/EUR Return", "date": "2016-03-05", "value": -0.007},
            {"series": "USD/EUR Return", "date": "2016-03-08", "value": -0.010},
            {"series": "USD/EUR Return", "date": "2016-03-11", "value": -0.013},
            {"series": "USD/EUR Return", "date": "2016-03-14", "value": -0.008},
            {"series": "USD/EUR Return", "date": "2016-03-17", "value": -0.004},
            {"series": "USD/EUR Return", "date": "2016-03-20", "value": -0.002},
            {"series": "USD/EUR Return", "date": "2016-03-26", "value": 0},
            {"series": "USD/EUR Return", "date": "2016-04-13", "value": 0},
            {"series": "USD/EUR Return", "date": "2016-04-16", "value": -0.004},
            {"series": "USD/EUR Return", "date": "2016-04-19", "value": -0.002},
            {"series": "USD/EUR Return", "date": "2016-04-22", "value": 0},
            {"series": "USD/EUR Return", "date": "2016-10-06", "value": 0},
            {"series": "USD/EUR Return", "date": "2016-10-09", "value": 0.014},
            {"series": "USD/EUR Return", "date": "2016-10-12", "value": 0.020},
            {"series": "USD/EUR Return", "date": "2016-10-15", "value": 0.022},
            {"series": "USD/EUR Return", "date": "2016-10-18", "value": 0.017},
            {"series": "USD/EUR Return", "date": "2016-10-21", "value": 0.029},
            {"series": "USD/EUR Return", "date": "2016-10-24", "value": 0.034},
            {"series": "USD/EUR Return", "date": "2016-10-27", "value": 0.035},
            {"series": "USD/EUR Return", "date": "2016-10-30", "value": 0.034},
            {"series": "USD/EUR Return", "date": "2016-11-02", "value": 0.039},
            {"series": "USD/EUR Return", "date": "2016-11-05", "value": 0.043},
            {"series": "USD/EUR Return", "date": "2016-11-08", "value": 0.046},
            {"series": "USD/EUR Return", "date": "2016-11-11", "value": 0.056},
            {"series": "USD/EUR Return", "date": "2016-11-15", "value": 0.048},
            {"series": "USD/EUR Return", "date": "2016-11-19", "value": 0.048},
            {"series": "USD/EUR Return", "date": "2016-11-23", "value": 0.050},
            {"series": "USD/EUR Return", "date": "2016-11-27", "value": 0.054},
            {"series": "USD/EUR Return", "date": "2016-11-29", "value": 0.034},
            {"series": "USD/EUR Return", "date": "2016-12-02", "value": 0.021},
            {"series": "USD/EUR Return", "date": "2016-12-05", "value": 0.012},
            {"series": "USD/EUR Return", "date": "2016-12-08", "value": 0.009},
            {"series": "USD/EUR Return", "date": "2016-12-11", "value": 0.014},
            {"series": "USD/EUR Return", "date": "2016-12-14", "value": 0.007},
            {"series": "USD/EUR Return", "date": "2016-12-19", "value": 0.006},
            {"series": "USD/EUR Return", "date": "2016-12-23", "value": 0.003},
            {"series": "USD/EUR Return", "date": "2016-12-29", "value": 0.001},
            {"series": "USD/EUR Return", "date": "2017-01-04", "value": 0},
            {"series": "USD/EUR Return", "date": "2017-04-08", "value": 0},
            {"series": "USD/EUR Return", "date": "2017-04-10", "value": 0.025},
            {"series": "USD/EUR Return", "date": "2017-04-12", "value": 0.040},
            {"series": "USD/EUR Return", "date": "2017-04-14", "value": 0.048},
            {"series": "USD/EUR Return", "date": "2017-04-16", "value": 0.028},
            {"series": "USD/EUR Return", "date": "2017-04-18", "value": 0},
            {"series": "USD/EUR Return", "date": "2017-06-05", "value": 0},
            {"series": "USD/EUR Return", "date": "2017-06-07", "value": 0.015},
            {"series": "USD/EUR Return", "date": "2017-06-09", "value": 0.020},
            {"series": "USD/EUR Return", "date": "2017-06-11", "value": 0.026},
            {"series": "USD/EUR Return", "date": "2017-06-14", "value": 0.018},
            {"series": "USD/EUR Return", "date": "2017-06-17", "value": 0.012},
            {"series": "USD/EUR Return", "date": "2017-06-20", "value": 0.025},
            {"series": "USD/EUR Return", "date": "2017-06-23", "value": 0.012},
            {"series": "USD/EUR Return", "date": "2017-06-26", "value": 0.029},
            {"series": "USD/EUR Return", "date": "2017-06-29", "value": 0.025},
            {"series": "USD/EUR Return", "date": "2017-07-02", "value": 0.023},
            {"series": "USD/EUR Return", "date": "2017-07-08", "value": 0.021},
            {"series": "USD/EUR Return", "date": "2017-07-14", "value": 0.023},
            {"series": "USD/EUR Return", "date": "2017-07-20", "value": 0.021},
            {"series": "USD/EUR Return", "date": "2017-07-26", "value": 0.020},
            {"series": "USD/EUR Return", "date": "2017-08-01", "value": 0.018},
            {"series": "USD/EUR Return", "date": "2017-08-07", "value": 0.017},
            {"series": "USD/EUR Return", "date": "2017-08-13", "value": 0.014},
            {"series": "USD/EUR Return", "date": "2017-08-19", "value": 0.012},
            {"series": "USD/EUR Return", "date": "2017-08-25", "value": 0.007},
            {"series": "USD/EUR Return", "date": "2017-08-28", "value": 0.003},
            {"series": "USD/EUR Return", "date": "2017-08-31", "value": 0.006},
            {"series": "USD/EUR Return", "date": "2017-09-06", "value": 0.001},
            {"series": "USD/EUR Return", "date": "2017-09-18", "value": 0.001},
            {"series": "USD/EUR Return", "date": "2017-09-24", "value": 0.006},
            {"series": "USD/EUR Return", "date": "2017-09-27", "value": 0.009},
            {"series": "USD/EUR Return", "date": "2017-09-30", "value": 0.015},
            {"series": "USD/EUR Return", "date": "2017-10-06", "value": 0.011},
            {"series": "USD/EUR Return", "date": "2017-10-12", "value": 0.018},
            {"series": "USD/EUR Return", "date": "2017-10-15", "value": 0.021},
            {"series": "USD/EUR Return", "date": "2017-10-18", "value": 0.015},
            {"series": "USD/EUR Return", "date": "2017-10-24", "value": 0.011},
            {"series": "USD/EUR Return", "date": "2017-10-27", "value": 0},
            {"series": "USD/EUR Return", "date": "2018-02-19", "value": 0}
          ]},
          "mark": {"type": "line", "strokeWidth": 6, "strokeCap": "butt", "strokeJoin": "round"},
          "encoding": {
            "x": {"field": "date", "type": "temporal", "scale": {"type": "utc", "domain": [{"year": 2010, "month": 10, "date": 28, "utc": true}, {"year": 2018, "month": 2, "date": 19, "utc": true}]},
              "axis": {"orient": "bottom", "grid": true, "title": "Date", "format": "%b %Y", "labelPadding": 6, "titlePadding": 4, "labelFlush": false, "labelOverlap": false,
                "values": [{"year": 2011, "month": 1, "date": 1, "utc": true}, {"year": 2012, "month": 1, "date": 1, "utc": true}, {"year": 2013, "month": 1, "date": 1, "utc": true}, {"year": 2014, "month": 1, "date": 1, "utc": true}, {"year": 2015, "month": 1, "date": 1, "utc": true}, {"year": 2016, "month": 1, "date": 1, "utc": true}, {"year": 2017, "month": 1, "date": 1, "utc": true}, {"year": 2018, "month": 1, "date": 1, "utc": true}]}},
            "y": {"field": "value", "type": "quantitative", "scale": {"domain": [-0.12, 0.12], "nice": false, "zero": false},
              "axis": {"orient": "left", "grid": true, "title": "Coefficient", "labelPadding": 11, "titlePadding": 0, "values": [-0.1, -0.05, 0, 0.05, 0.1], "labelExpr": "replace(format(datum.value, '.2f'), '−', '-')"}},
            "color": {"field": "series", "type": "nominal", "legend": null,
              "scale": {"domain": ["Australia EPU", "MSCI Europe Return", "Nasdaq Return", "US Equity EPU", "USD/EUR Return"], "range": ["#000000", "#FF0000", "#0000FF", "#00FF00", "#A020F0"]}},
            "strokeDash": {"field": "series", "type": "nominal", "legend": null,
              "scale": {"domain": ["Australia EPU", "MSCI Europe Return", "Nasdaq Return", "US Equity EPU", "USD/EUR Return"], "range": [[1, 0], [24, 24], [6, 18], [6, 18, 24, 18], [12, 12, 36, 12]]}}
          }
        }
      ]
    }
  ]
}
